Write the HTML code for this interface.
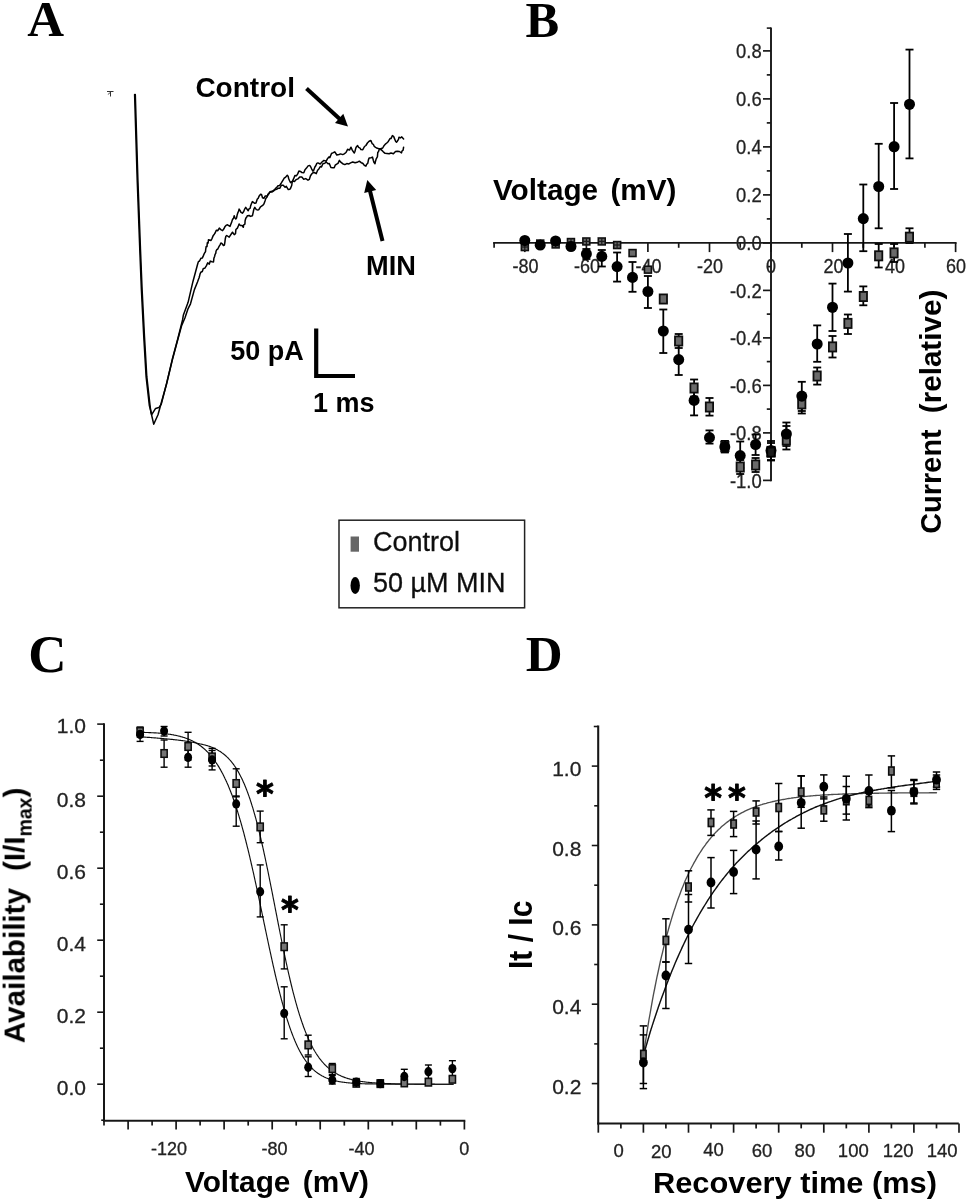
<!DOCTYPE html>
<html lang="en"><head><meta charset="utf-8"><title>Figure: MIN effects on sodium current</title>
<style>html,body{margin:0;padding:0;background:#fff}svg{display:block}</style></head><body>
<svg width="967" height="1200" viewBox="0 0 967 1200">
<rect x="0" y="0" width="967" height="1200" fill="#fff"/>
<defs><filter id="soft" x="0" y="0" width="967" height="1200" filterUnits="userSpaceOnUse"><feGaussianBlur stdDeviation="0.55"/></filter></defs>
<g filter="url(#soft)">
<text x="27.2" y="36.2" font-family='"Liberation Serif", "Times New Roman", serif' font-size="51" font-weight="bold" text-anchor="start" fill="#000" >A</text>
<text x="525.6" y="36.5" font-family='"Liberation Serif", "Times New Roman", serif' font-size="50.5" font-weight="bold" text-anchor="start" fill="#000" >B</text>
<text x="28.2" y="672" font-family='"Liberation Serif", "Times New Roman", serif' font-size="53" font-weight="bold" text-anchor="start" fill="#000" >C</text>
<text x="525.8" y="670.9" font-family='"Liberation Serif", "Times New Roman", serif' font-size="51" font-weight="bold" text-anchor="start" fill="#000" >D</text>
<polyline points="134.6,94.6 137.2,180 139.8,250 141.4,289.6 143.8,337.1 146.1,376.7 149.3,405.2 151.7,414.7 155.6,408.4 158.8,407.6 161.2,404.4 166.7,383 172.3,359.3 177.8,338.7 182.6,319.7 183.4,314.9 188.1,302.3 192.9,281.7 197.6,264.3 198.4,261.6 199.5,261 201,258.2 202.4,257.9 203.5,255.4 204.2,253.7 205.5,251.6 205.7,249.4 206.2,246.4 207,246.6 207.3,242.8 208.1,243 208.5,239.7 211,240.5 212.1,238.3 213.3,235.4 214.3,234.2 215.1,233 216.3,230.2 217.8,230.7 219.3,228.1 220.8,229.6 222.6,230.6 223.9,228.8 225.1,226.4 226,225.4 227.5,224.8 230,226.4 230.9,224 231.6,222.4 232.5,219.4 233.5,218.4 234.2,215.7 234.8,217.6 235.8,219 236.5,218.1 237.3,214.4 238.1,211.9 238.4,211.9 239.1,209.1 240,210.4 241,212.3 242.4,213.2 243.7,211.5 244.8,208.8 245.7,207.4 247.1,209.3 248.2,210.7 249.1,208.7 250.1,208.4 250.7,205.7 251.3,204 252.4,201.6 254.8,203.3 256,203 257.3,199 258.2,198.3 259.2,195.9 260.6,194.2 261.5,194.4 262.5,197.7 263.9,198.3 265.3,195.9 267.2,196.1 268.9,193.3 270.3,191.9 272.2,192 274,190.7 275.5,188.4 276.5,187.7 278,185.8 279.7,185.5 281.5,182.7 283.2,179.8 284.2,178.2 285.7,177.1 287.3,175.3 288.2,176.4 288.7,178.8 289.7,181 290.6,182.7 292.3,181.3 293.4,179.2 294.9,175.6 296.4,175.8 297.7,173.9 298.9,171.1 300.5,171.4 301.9,172.6 303.8,172.8 305,169.7 306.5,168.1 308.1,165.9 309.6,165.4 310.4,166.3 311.6,168.8 312.9,171.1 313.6,170.6 315,166.8 315.8,165.7 316.8,163.4 317.9,162.9 320.2,164 322,162 323.9,160.4 326.2,161.2 327.4,158.8 329,156.9 329.9,157.6 331.5,153.5 332.8,152.9 334.8,151.8 336.8,155 339,154.5 340.6,153.9 342.7,154.6 344.2,153.9 346,152.5 347.6,149.3 349.5,150.1 351,147.2 352.3,150.1 353.4,151.8 354.3,153 355,151.2 355.9,147.8 356.5,146.7 357.6,145.5 358.6,147.4 360.1,148.1 360.9,149.6 362.8,149.7 364.5,146.5 365.9,145.5 367.4,143 369.1,141.3 370.9,140.5 372.1,143.6 373.3,144.3 374.2,146.3 376.5,148 378.4,148.4 380.8,148.8 382.7,148 384.2,145.4 385.7,143.8 386.8,143 388.3,141.4 390,138.6 391,138.6 392.4,135.6 393.6,136.3 394.2,137.9 395.7,141.5 396.5,142.2 397.1,141.5 398.5,139.3 399,137.2 400.4,137.9 401.8,136.9 403.6,138.9" fill="none" stroke="#000" stroke-width="1.5" stroke-linejoin="round" stroke-linecap="round" />
<polyline points="135.3,94.6 137.9,180 140.5,250 142.1,289.6 144.5,337.1 146.8,376.7 150,405.2 150.9,412 153.7,424.2 158,414.7 161.5,402 166.7,383.5 172.3,360 177.8,339.5 181.5,326 184.9,318 188.1,308.6 190.5,303.8 194.4,289.6 197.6,281.7 198.2,280 199.1,277.8 199.5,276.3 200,274.1 200.8,272.2 202.3,271.5 203.3,268.4 204.7,268.3 206.3,265.8 207.7,262.9 209.3,264.1 210.3,261.1 212,261.8 213.5,261.9 213.9,258.3 214.7,256.2 215,254.6 215.8,253.2 216,251.3 216.8,249.6 217.8,249 218.9,246.7 219.9,245.1 220.9,243 222.1,243.6 223.4,245.5 224.4,245 224.9,242.1 225.3,238.7 225.9,236.2 226.7,235.5 229.2,237.2 230.5,235.2 231.6,233.5 232.5,232.2 234.2,234.7 235.5,233.6 235.9,229.5 237.4,228.1 238.4,225.8 239.1,223.9 240.2,225.4 242.1,225.5 243.3,227.3 243.7,224.9 244.9,224.2 245.1,220.7 245.8,218.2 246.9,216.7 247.4,215.7 249.1,215.5 250.5,216.4 252.4,215.7 252.8,214.1 253.4,211.3 254,208.8 254.8,207.4 256.3,209.6 257.3,209.9 258.8,209.7 260.5,206.8 262.3,205.7 263.4,204.6 263.9,204 265,201 265.8,198.4 267.2,196.8 267.9,194.2 268.8,193.9 270,191.8 272,191.3 274.3,190 276.5,189.3 278.5,188.2 279.9,188.3 281.3,185.2 283.2,185.2 285.1,187.2 286.3,186.3 288.3,189.6 289.8,189.3 290.4,188.6 291.7,185.5 292.2,182 293.1,181.1 294.5,181.4 296.2,179.6 297.9,178.9 299.7,176.9 301.8,177.1 303.7,179.2 305.7,178.6 308,180.2 309.3,179.4 310.5,175.8 311.9,173.8 312.9,172.8 314.3,172.5 316.3,173.6 317.6,170.3 318.7,169.2 320.3,166.6 321.5,166.9 322.9,163.7 324.8,163.3 326.2,162 328,163.7 329.3,163.5 330.9,167.6 332.8,167.8 334.2,167.7 335.2,165.2 336.7,164.1 338,163.4 339.4,160.4 340.8,162.2 342.7,163.7 344.8,164.6 346.8,163.6 348.9,163.9 350.6,162.9 352.7,162 355.1,162.8 357.1,162.3 359.3,161.2 361.2,162.7 362.7,163.3 364.3,165.3 365.9,166.2 366.5,164.5 367.8,163.2 368.5,159.6 369.2,157.9 371,157.7 372.5,157.1 373.3,160.3 373.9,162.3 375,163.7 375.3,162 376.2,158.9 376.9,157.6 377.4,156.9 377.8,152.2 378.4,152.1 379.1,149.6 380.9,149.4 383.3,151.8 385.1,153.3 387,153.5 389.1,153.8 391,153 393.4,153.8 395.5,151.6 397.3,151.3 399.4,151.5 401.5,152.9 402,151 403.1,150.1 403.6,147.2" fill="none" stroke="#000" stroke-width="1.5" stroke-linejoin="round" stroke-linecap="round" />
<path d="M107 91.5h6.5M110.5 92v4.5M108.3 94.5l1.5-2" stroke="#333" stroke-width="1" fill="none"/>
<line x1="306.5" y1="88.5" x2="340.3" y2="119.4" stroke="#000" stroke-width="4.0" />
<polygon points="348,126.5 335,123 343.3,113.8" fill="#000"/>
<line x1="382.5" y1="241" x2="369.8" y2="190.2" stroke="#000" stroke-width="4.0" />
<polygon points="367.3,180 376.2,190.1 364.2,193.1" fill="#000"/>
<text x="195.4" y="96.8" font-family='"Liberation Sans", Arial, Helvetica, sans-serif' font-size="28" font-weight="bold" text-anchor="start" fill="#000" >Control</text>
<text x="366" y="275.3" font-family='"Liberation Sans", Arial, Helvetica, sans-serif' font-size="27.2" font-weight="bold" text-anchor="start" fill="#000" >MIN</text>
<text x="230.2" y="359.7" font-family='"Liberation Sans", Arial, Helvetica, sans-serif' font-size="27" font-weight="bold" text-anchor="start" fill="#000" >50 pA</text>
<text x="313" y="411.7" font-family='"Liberation Sans", Arial, Helvetica, sans-serif' font-size="27" font-weight="bold" text-anchor="start" fill="#000" >1 ms</text>
<path d="M316.2 328.5V376H355" fill="none" stroke="#000" stroke-width="4.2"/>
<rect x="339" y="520.2" width="185.6" height="87.6" fill="#fff" stroke="#222" stroke-width="1.5"/>
<rect x="350.6" y="536.5" width="8.4" height="15.2" fill="#666"/>
<ellipse cx="355.2" cy="585.5" rx="4.7" ry="8.5" fill="#000"/>
<text x="373" y="550.8" font-family='"Liberation Sans", Arial, Helvetica, sans-serif' font-size="27" font-weight="normal" text-anchor="start" fill="#111"  stroke="#111" stroke-width="0.3">Control</text>
<text x="373" y="591.8" font-family='"Liberation Sans", Arial, Helvetica, sans-serif' font-size="27" font-weight="normal" text-anchor="start" fill="#111"  stroke="#111" stroke-width="0.3">50 µM MIN</text>
<line x1="493.1" y1="242.9" x2="956.6" y2="242.9" stroke="#181818" stroke-width="1.9" />
<line x1="771" y1="27.6" x2="771" y2="481.2" stroke="#181818" stroke-width="1.9" />
<line x1="494.1" y1="242.9" x2="494.1" y2="247.8" stroke="#181818" stroke-width="1.7" />
<line x1="524.8" y1="242.9" x2="524.8" y2="252.1" stroke="#181818" stroke-width="1.7" />
<line x1="555.6" y1="242.9" x2="555.6" y2="247.8" stroke="#181818" stroke-width="1.7" />
<line x1="586.4" y1="242.9" x2="586.4" y2="252.1" stroke="#181818" stroke-width="1.7" />
<line x1="617.1" y1="242.9" x2="617.1" y2="247.8" stroke="#181818" stroke-width="1.7" />
<line x1="647.9" y1="242.9" x2="647.9" y2="252.1" stroke="#181818" stroke-width="1.7" />
<line x1="678.7" y1="242.9" x2="678.7" y2="247.8" stroke="#181818" stroke-width="1.7" />
<line x1="709.5" y1="242.9" x2="709.5" y2="252.1" stroke="#181818" stroke-width="1.7" />
<line x1="740.2" y1="242.9" x2="740.2" y2="247.8" stroke="#181818" stroke-width="1.7" />
<line x1="771" y1="242.9" x2="771" y2="252.1" stroke="#181818" stroke-width="1.7" />
<line x1="801.8" y1="242.9" x2="801.8" y2="247.8" stroke="#181818" stroke-width="1.7" />
<line x1="832.5" y1="242.9" x2="832.5" y2="252.1" stroke="#181818" stroke-width="1.7" />
<line x1="863.3" y1="242.9" x2="863.3" y2="247.8" stroke="#181818" stroke-width="1.7" />
<line x1="894.1" y1="242.9" x2="894.1" y2="252.1" stroke="#181818" stroke-width="1.7" />
<line x1="924.9" y1="242.9" x2="924.9" y2="247.8" stroke="#181818" stroke-width="1.7" />
<line x1="955.6" y1="242.9" x2="955.6" y2="252.1" stroke="#181818" stroke-width="1.7" />
<line x1="763" y1="480.4" x2="771" y2="480.4" stroke="#181818" stroke-width="1.7" />
<line x1="766.8" y1="456.6" x2="771" y2="456.6" stroke="#181818" stroke-width="1.7" />
<line x1="763" y1="432.9" x2="771" y2="432.9" stroke="#181818" stroke-width="1.7" />
<line x1="766.8" y1="409.1" x2="771" y2="409.1" stroke="#181818" stroke-width="1.7" />
<line x1="763" y1="385.4" x2="771" y2="385.4" stroke="#181818" stroke-width="1.7" />
<line x1="766.8" y1="361.6" x2="771" y2="361.6" stroke="#181818" stroke-width="1.7" />
<line x1="763" y1="337.9" x2="771" y2="337.9" stroke="#181818" stroke-width="1.7" />
<line x1="766.8" y1="314.1" x2="771" y2="314.1" stroke="#181818" stroke-width="1.7" />
<line x1="763" y1="290.4" x2="771" y2="290.4" stroke="#181818" stroke-width="1.7" />
<line x1="766.8" y1="266.6" x2="771" y2="266.6" stroke="#181818" stroke-width="1.7" />
<line x1="763" y1="242.9" x2="771" y2="242.9" stroke="#181818" stroke-width="1.7" />
<line x1="766.8" y1="218.9" x2="771" y2="218.9" stroke="#181818" stroke-width="1.7" />
<line x1="763" y1="194.9" x2="771" y2="194.9" stroke="#181818" stroke-width="1.7" />
<line x1="766.8" y1="170.9" x2="771" y2="170.9" stroke="#181818" stroke-width="1.7" />
<line x1="763" y1="146.9" x2="771" y2="146.9" stroke="#181818" stroke-width="1.7" />
<line x1="766.8" y1="122.9" x2="771" y2="122.9" stroke="#181818" stroke-width="1.7" />
<line x1="763" y1="98.9" x2="771" y2="98.9" stroke="#181818" stroke-width="1.7" />
<line x1="766.8" y1="74.9" x2="771" y2="74.9" stroke="#181818" stroke-width="1.7" />
<line x1="763" y1="50.9" x2="771" y2="50.9" stroke="#181818" stroke-width="1.7" />
<line x1="766.8" y1="28.1" x2="771" y2="28.1" stroke="#181818" stroke-width="1.6" />
<text x="525.4" y="272.5" font-family='"Liberation Sans", Arial, Helvetica, sans-serif' font-size="20" font-weight="normal" text-anchor="middle" fill="#222" textLength="26" lengthAdjust="spacingAndGlyphs" stroke="#222" stroke-width="0.3">-80</text>
<text x="587" y="272.5" font-family='"Liberation Sans", Arial, Helvetica, sans-serif' font-size="20" font-weight="normal" text-anchor="middle" fill="#222" textLength="26" lengthAdjust="spacingAndGlyphs" stroke="#222" stroke-width="0.3">-60</text>
<text x="648.5" y="272.5" font-family='"Liberation Sans", Arial, Helvetica, sans-serif' font-size="20" font-weight="normal" text-anchor="middle" fill="#222" textLength="26" lengthAdjust="spacingAndGlyphs" stroke="#222" stroke-width="0.3">-40</text>
<text x="710.1" y="272.5" font-family='"Liberation Sans", Arial, Helvetica, sans-serif' font-size="20" font-weight="normal" text-anchor="middle" fill="#222" textLength="26" lengthAdjust="spacingAndGlyphs" stroke="#222" stroke-width="0.3">-20</text>
<text x="771" y="272.5" font-family='"Liberation Sans", Arial, Helvetica, sans-serif' font-size="20" font-weight="normal" text-anchor="middle" fill="#222" textLength="10" lengthAdjust="spacingAndGlyphs" stroke="#222" stroke-width="0.3">0</text>
<text x="833.5" y="272.5" font-family='"Liberation Sans", Arial, Helvetica, sans-serif' font-size="20" font-weight="normal" text-anchor="middle" fill="#222" textLength="20" lengthAdjust="spacingAndGlyphs" stroke="#222" stroke-width="0.3">20</text>
<text x="895.1" y="272.5" font-family='"Liberation Sans", Arial, Helvetica, sans-serif' font-size="20" font-weight="normal" text-anchor="middle" fill="#222" textLength="20" lengthAdjust="spacingAndGlyphs" stroke="#222" stroke-width="0.3">40</text>
<text x="956" y="272.5" font-family='"Liberation Sans", Arial, Helvetica, sans-serif' font-size="20" font-weight="normal" text-anchor="middle" fill="#222" textLength="20" lengthAdjust="spacingAndGlyphs" stroke="#222" stroke-width="0.3">60</text>
<text x="761.7" y="58.3" font-family='"Liberation Sans", Arial, Helvetica, sans-serif' font-size="20.5" font-weight="normal" text-anchor="end" fill="#222" textLength="25.6" lengthAdjust="spacingAndGlyphs" stroke="#222" stroke-width="0.3">0.8</text>
<text x="761.7" y="106.3" font-family='"Liberation Sans", Arial, Helvetica, sans-serif' font-size="20.5" font-weight="normal" text-anchor="end" fill="#222" textLength="25.6" lengthAdjust="spacingAndGlyphs" stroke="#222" stroke-width="0.3">0.6</text>
<text x="761.7" y="154.3" font-family='"Liberation Sans", Arial, Helvetica, sans-serif' font-size="20.5" font-weight="normal" text-anchor="end" fill="#222" textLength="25.6" lengthAdjust="spacingAndGlyphs" stroke="#222" stroke-width="0.3">0.4</text>
<text x="761.7" y="202.3" font-family='"Liberation Sans", Arial, Helvetica, sans-serif' font-size="20.5" font-weight="normal" text-anchor="end" fill="#222" textLength="25.6" lengthAdjust="spacingAndGlyphs" stroke="#222" stroke-width="0.3">0.2</text>
<text x="761.7" y="250.3" font-family='"Liberation Sans", Arial, Helvetica, sans-serif' font-size="20.5" font-weight="normal" text-anchor="end" fill="#222" textLength="25.6" lengthAdjust="spacingAndGlyphs" stroke="#222" stroke-width="0.3">0.0</text>
<text x="761.7" y="297.8" font-family='"Liberation Sans", Arial, Helvetica, sans-serif' font-size="20.5" font-weight="normal" text-anchor="end" fill="#222" textLength="31.8" lengthAdjust="spacingAndGlyphs" stroke="#222" stroke-width="0.3">-0.2</text>
<text x="761.7" y="345.3" font-family='"Liberation Sans", Arial, Helvetica, sans-serif' font-size="20.5" font-weight="normal" text-anchor="end" fill="#222" textLength="31.8" lengthAdjust="spacingAndGlyphs" stroke="#222" stroke-width="0.3">-0.4</text>
<text x="761.7" y="392.8" font-family='"Liberation Sans", Arial, Helvetica, sans-serif' font-size="20.5" font-weight="normal" text-anchor="end" fill="#222" textLength="31.8" lengthAdjust="spacingAndGlyphs" stroke="#222" stroke-width="0.3">-0.6</text>
<text x="761.7" y="440.3" font-family='"Liberation Sans", Arial, Helvetica, sans-serif' font-size="20.5" font-weight="normal" text-anchor="end" fill="#222" textLength="31.8" lengthAdjust="spacingAndGlyphs" stroke="#222" stroke-width="0.3">-0.8</text>
<text x="761.7" y="487.8" font-family='"Liberation Sans", Arial, Helvetica, sans-serif' font-size="20.5" font-weight="normal" text-anchor="end" fill="#222" textLength="31.8" lengthAdjust="spacingAndGlyphs" stroke="#222" stroke-width="0.3">-1.0</text>
<text x="493" y="199.7" font-family='"Liberation Sans", Arial, Helvetica, sans-serif' font-size="29" font-weight="bold" text-anchor="start" fill="#000" textLength="183.5" lengthAdjust="spacingAndGlyphs" word-spacing="4">Voltage (mV)</text>
<text transform="translate(941.3 533.8) rotate(-90)" font-family='"Liberation Sans", Arial, Helvetica, sans-serif' font-size="29.4" font-weight="bold" fill="#000"><tspan x="0" textLength="104.5" lengthAdjust="spacingAndGlyphs">Current</tspan> <tspan x="120.6" textLength="123.5" lengthAdjust="spacingAndGlyphs">(relative)</tspan></text>
<line x1="663.3" y1="296" x2="663.3" y2="302" stroke="#000" stroke-width="1.8" />
<line x1="659.3" y1="296" x2="667.3" y2="296" stroke="#000" stroke-width="1.8" />
<line x1="659.3" y1="302" x2="667.3" y2="302" stroke="#000" stroke-width="1.8" />
<line x1="678.7" y1="334" x2="678.7" y2="348" stroke="#000" stroke-width="1.8" />
<line x1="674.7" y1="334" x2="682.7" y2="334" stroke="#000" stroke-width="1.8" />
<line x1="674.7" y1="348" x2="682.7" y2="348" stroke="#000" stroke-width="1.8" />
<line x1="694.1" y1="379.5" x2="694.1" y2="396.5" stroke="#000" stroke-width="1.8" />
<line x1="690.1" y1="379.5" x2="698.1" y2="379.5" stroke="#000" stroke-width="1.8" />
<line x1="690.1" y1="396.5" x2="698.1" y2="396.5" stroke="#000" stroke-width="1.8" />
<line x1="709.5" y1="398" x2="709.5" y2="415.6" stroke="#000" stroke-width="1.8" />
<line x1="705.5" y1="398" x2="713.5" y2="398" stroke="#000" stroke-width="1.8" />
<line x1="705.5" y1="415.6" x2="713.5" y2="415.6" stroke="#000" stroke-width="1.8" />
<line x1="724.8" y1="441" x2="724.8" y2="452" stroke="#000" stroke-width="1.8" />
<line x1="720.8" y1="441" x2="728.8" y2="441" stroke="#000" stroke-width="1.8" />
<line x1="720.8" y1="452" x2="728.8" y2="452" stroke="#000" stroke-width="1.8" />
<line x1="740.2" y1="460" x2="740.2" y2="474" stroke="#000" stroke-width="1.8" />
<line x1="736.2" y1="460" x2="744.2" y2="460" stroke="#000" stroke-width="1.8" />
<line x1="736.2" y1="474" x2="744.2" y2="474" stroke="#000" stroke-width="1.8" />
<line x1="755.6" y1="458" x2="755.6" y2="472" stroke="#000" stroke-width="1.8" />
<line x1="751.6" y1="458" x2="759.6" y2="458" stroke="#000" stroke-width="1.8" />
<line x1="751.6" y1="472" x2="759.6" y2="472" stroke="#000" stroke-width="1.8" />
<line x1="771" y1="443" x2="771" y2="460.5" stroke="#000" stroke-width="1.8" />
<line x1="767" y1="443" x2="775" y2="443" stroke="#000" stroke-width="1.8" />
<line x1="767" y1="460.5" x2="775" y2="460.5" stroke="#000" stroke-width="1.8" />
<line x1="786.4" y1="426" x2="786.4" y2="449.5" stroke="#000" stroke-width="1.8" />
<line x1="782.4" y1="426" x2="790.4" y2="426" stroke="#000" stroke-width="1.8" />
<line x1="782.4" y1="449.5" x2="790.4" y2="449.5" stroke="#000" stroke-width="1.8" />
<line x1="801.8" y1="394" x2="801.8" y2="413.5" stroke="#000" stroke-width="1.8" />
<line x1="797.8" y1="394" x2="805.8" y2="394" stroke="#000" stroke-width="1.8" />
<line x1="797.8" y1="413.5" x2="805.8" y2="413.5" stroke="#000" stroke-width="1.8" />
<line x1="817.2" y1="367.5" x2="817.2" y2="384.6" stroke="#000" stroke-width="1.8" />
<line x1="813.2" y1="367.5" x2="821.2" y2="367.5" stroke="#000" stroke-width="1.8" />
<line x1="813.2" y1="384.6" x2="821.2" y2="384.6" stroke="#000" stroke-width="1.8" />
<line x1="832.5" y1="336" x2="832.5" y2="357.5" stroke="#000" stroke-width="1.8" />
<line x1="828.5" y1="336" x2="836.5" y2="336" stroke="#000" stroke-width="1.8" />
<line x1="828.5" y1="357.5" x2="836.5" y2="357.5" stroke="#000" stroke-width="1.8" />
<line x1="847.9" y1="314.5" x2="847.9" y2="334" stroke="#000" stroke-width="1.8" />
<line x1="843.9" y1="314.5" x2="851.9" y2="314.5" stroke="#000" stroke-width="1.8" />
<line x1="843.9" y1="334" x2="851.9" y2="334" stroke="#000" stroke-width="1.8" />
<line x1="863.3" y1="286.4" x2="863.3" y2="305.3" stroke="#000" stroke-width="1.8" />
<line x1="859.3" y1="286.4" x2="867.3" y2="286.4" stroke="#000" stroke-width="1.8" />
<line x1="859.3" y1="305.3" x2="867.3" y2="305.3" stroke="#000" stroke-width="1.8" />
<line x1="878.7" y1="244" x2="878.7" y2="267.5" stroke="#000" stroke-width="1.8" />
<line x1="874.7" y1="244" x2="882.7" y2="244" stroke="#000" stroke-width="1.8" />
<line x1="874.7" y1="267.5" x2="882.7" y2="267.5" stroke="#000" stroke-width="1.8" />
<line x1="894.1" y1="244" x2="894.1" y2="262" stroke="#000" stroke-width="1.8" />
<line x1="890.1" y1="244" x2="898.1" y2="244" stroke="#000" stroke-width="1.8" />
<line x1="890.1" y1="262" x2="898.1" y2="262" stroke="#000" stroke-width="1.8" />
<line x1="909.5" y1="228.3" x2="909.5" y2="243" stroke="#000" stroke-width="1.8" />
<line x1="905.5" y1="228.3" x2="913.5" y2="228.3" stroke="#000" stroke-width="1.8" />
<line x1="905.5" y1="243" x2="913.5" y2="243" stroke="#000" stroke-width="1.8" />
<line x1="586.4" y1="249" x2="586.4" y2="259" stroke="#000" stroke-width="1.8" />
<line x1="582.4" y1="249" x2="590.4" y2="249" stroke="#000" stroke-width="1.8" />
<line x1="582.4" y1="259" x2="590.4" y2="259" stroke="#000" stroke-width="1.8" />
<line x1="601.8" y1="250" x2="601.8" y2="266.5" stroke="#000" stroke-width="1.8" />
<line x1="597.8" y1="250" x2="605.8" y2="250" stroke="#000" stroke-width="1.8" />
<line x1="597.8" y1="266.5" x2="605.8" y2="266.5" stroke="#000" stroke-width="1.8" />
<line x1="617.1" y1="252.5" x2="617.1" y2="281.6" stroke="#000" stroke-width="1.8" />
<line x1="613.1" y1="252.5" x2="621.1" y2="252.5" stroke="#000" stroke-width="1.8" />
<line x1="613.1" y1="281.6" x2="621.1" y2="281.6" stroke="#000" stroke-width="1.8" />
<line x1="632.5" y1="262" x2="632.5" y2="291.8" stroke="#000" stroke-width="1.8" />
<line x1="628.5" y1="262" x2="636.5" y2="262" stroke="#000" stroke-width="1.8" />
<line x1="628.5" y1="291.8" x2="636.5" y2="291.8" stroke="#000" stroke-width="1.8" />
<line x1="647.9" y1="276" x2="647.9" y2="308" stroke="#000" stroke-width="1.8" />
<line x1="643.9" y1="276" x2="651.9" y2="276" stroke="#000" stroke-width="1.8" />
<line x1="643.9" y1="308" x2="651.9" y2="308" stroke="#000" stroke-width="1.8" />
<line x1="663.3" y1="309.5" x2="663.3" y2="353" stroke="#000" stroke-width="1.8" />
<line x1="659.3" y1="309.5" x2="667.3" y2="309.5" stroke="#000" stroke-width="1.8" />
<line x1="659.3" y1="353" x2="667.3" y2="353" stroke="#000" stroke-width="1.8" />
<line x1="678.7" y1="345" x2="678.7" y2="375" stroke="#000" stroke-width="1.8" />
<line x1="674.7" y1="345" x2="682.7" y2="345" stroke="#000" stroke-width="1.8" />
<line x1="674.7" y1="375" x2="682.7" y2="375" stroke="#000" stroke-width="1.8" />
<line x1="694.1" y1="386" x2="694.1" y2="415.4" stroke="#000" stroke-width="1.8" />
<line x1="690.1" y1="386" x2="698.1" y2="386" stroke="#000" stroke-width="1.8" />
<line x1="690.1" y1="415.4" x2="698.1" y2="415.4" stroke="#000" stroke-width="1.8" />
<line x1="709.5" y1="430.4" x2="709.5" y2="443.6" stroke="#000" stroke-width="1.8" />
<line x1="705.5" y1="430.4" x2="713.5" y2="430.4" stroke="#000" stroke-width="1.8" />
<line x1="705.5" y1="443.6" x2="713.5" y2="443.6" stroke="#000" stroke-width="1.8" />
<line x1="724.8" y1="441" x2="724.8" y2="452.5" stroke="#000" stroke-width="1.8" />
<line x1="720.8" y1="441" x2="728.8" y2="441" stroke="#000" stroke-width="1.8" />
<line x1="720.8" y1="452.5" x2="728.8" y2="452.5" stroke="#000" stroke-width="1.8" />
<line x1="740.2" y1="441.5" x2="740.2" y2="468" stroke="#000" stroke-width="1.8" />
<line x1="736.2" y1="441.5" x2="744.2" y2="441.5" stroke="#000" stroke-width="1.8" />
<line x1="736.2" y1="468" x2="744.2" y2="468" stroke="#000" stroke-width="1.8" />
<line x1="755.6" y1="434.5" x2="755.6" y2="455" stroke="#000" stroke-width="1.8" />
<line x1="751.6" y1="434.5" x2="759.6" y2="434.5" stroke="#000" stroke-width="1.8" />
<line x1="751.6" y1="455" x2="759.6" y2="455" stroke="#000" stroke-width="1.8" />
<line x1="771" y1="441" x2="771" y2="460" stroke="#000" stroke-width="1.8" />
<line x1="767" y1="441" x2="775" y2="441" stroke="#000" stroke-width="1.8" />
<line x1="767" y1="460" x2="775" y2="460" stroke="#000" stroke-width="1.8" />
<line x1="786.4" y1="422.5" x2="786.4" y2="446" stroke="#000" stroke-width="1.8" />
<line x1="782.4" y1="422.5" x2="790.4" y2="422.5" stroke="#000" stroke-width="1.8" />
<line x1="782.4" y1="446" x2="790.4" y2="446" stroke="#000" stroke-width="1.8" />
<line x1="801.8" y1="381.8" x2="801.8" y2="411" stroke="#000" stroke-width="1.8" />
<line x1="797.8" y1="381.8" x2="805.8" y2="381.8" stroke="#000" stroke-width="1.8" />
<line x1="797.8" y1="411" x2="805.8" y2="411" stroke="#000" stroke-width="1.8" />
<line x1="817.2" y1="325.4" x2="817.2" y2="361.8" stroke="#000" stroke-width="1.8" />
<line x1="813.2" y1="325.4" x2="821.2" y2="325.4" stroke="#000" stroke-width="1.8" />
<line x1="813.2" y1="361.8" x2="821.2" y2="361.8" stroke="#000" stroke-width="1.8" />
<line x1="832.5" y1="283.6" x2="832.5" y2="331" stroke="#000" stroke-width="1.8" />
<line x1="828.5" y1="283.6" x2="836.5" y2="283.6" stroke="#000" stroke-width="1.8" />
<line x1="828.5" y1="331" x2="836.5" y2="331" stroke="#000" stroke-width="1.8" />
<line x1="847.9" y1="234" x2="847.9" y2="291.6" stroke="#000" stroke-width="1.8" />
<line x1="843.9" y1="234" x2="851.9" y2="234" stroke="#000" stroke-width="1.8" />
<line x1="843.9" y1="291.6" x2="851.9" y2="291.6" stroke="#000" stroke-width="1.8" />
<line x1="863.3" y1="184.5" x2="863.3" y2="251.2" stroke="#000" stroke-width="1.8" />
<line x1="859.3" y1="184.5" x2="867.3" y2="184.5" stroke="#000" stroke-width="1.8" />
<line x1="859.3" y1="251.2" x2="867.3" y2="251.2" stroke="#000" stroke-width="1.8" />
<line x1="878.7" y1="143.8" x2="878.7" y2="228.3" stroke="#000" stroke-width="1.8" />
<line x1="874.7" y1="143.8" x2="882.7" y2="143.8" stroke="#000" stroke-width="1.8" />
<line x1="874.7" y1="228.3" x2="882.7" y2="228.3" stroke="#000" stroke-width="1.8" />
<line x1="894.1" y1="103" x2="894.1" y2="189" stroke="#000" stroke-width="1.8" />
<line x1="890.1" y1="103" x2="898.1" y2="103" stroke="#000" stroke-width="1.8" />
<line x1="890.1" y1="189" x2="898.1" y2="189" stroke="#000" stroke-width="1.8" />
<line x1="909.5" y1="49.6" x2="909.5" y2="158.4" stroke="#000" stroke-width="1.8" />
<line x1="905.5" y1="49.6" x2="913.5" y2="49.6" stroke="#000" stroke-width="1.8" />
<line x1="905.5" y1="158.4" x2="913.5" y2="158.4" stroke="#000" stroke-width="1.8" />
<rect x="521.4" y="243.6" width="6.9" height="6.9" fill="#6a6a6a" stroke="#111" stroke-width="1.6"/>
<line x1="524.8" y1="243.6" x2="524.8" y2="250.4" stroke="#1a1a1a" stroke-width="1.2" />
<line x1="521.4" y1="247" x2="528.2" y2="247" stroke="#1a1a1a" stroke-width="1.2" />
<rect x="536.8" y="240.1" width="6.9" height="6.9" fill="#6a6a6a" stroke="#111" stroke-width="1.6"/>
<line x1="540.2" y1="240.1" x2="540.2" y2="246.9" stroke="#1a1a1a" stroke-width="1.2" />
<line x1="536.8" y1="243.5" x2="543.6" y2="243.5" stroke="#1a1a1a" stroke-width="1.2" />
<rect x="552.2" y="241" width="6.9" height="6.9" fill="#6a6a6a" stroke="#111" stroke-width="1.6"/>
<line x1="555.6" y1="241" x2="555.6" y2="247.8" stroke="#1a1a1a" stroke-width="1.2" />
<line x1="552.2" y1="244.4" x2="559" y2="244.4" stroke="#1a1a1a" stroke-width="1.2" />
<rect x="567.5" y="238.6" width="6.9" height="6.9" fill="#6a6a6a" stroke="#111" stroke-width="1.6"/>
<line x1="571" y1="238.6" x2="571" y2="245.4" stroke="#1a1a1a" stroke-width="1.2" />
<line x1="567.6" y1="242" x2="574.4" y2="242" stroke="#1a1a1a" stroke-width="1.2" />
<rect x="582.9" y="238" width="6.9" height="6.9" fill="#6a6a6a" stroke="#111" stroke-width="1.6"/>
<line x1="586.4" y1="238" x2="586.4" y2="244.8" stroke="#1a1a1a" stroke-width="1.2" />
<line x1="583" y1="241.4" x2="589.8" y2="241.4" stroke="#1a1a1a" stroke-width="1.2" />
<rect x="598.3" y="238" width="6.9" height="6.9" fill="#6a6a6a" stroke="#111" stroke-width="1.6"/>
<line x1="601.8" y1="238" x2="601.8" y2="244.8" stroke="#1a1a1a" stroke-width="1.2" />
<line x1="598.4" y1="241.4" x2="605.2" y2="241.4" stroke="#1a1a1a" stroke-width="1.2" />
<rect x="613.7" y="241.6" width="6.9" height="6.9" fill="#6a6a6a" stroke="#111" stroke-width="1.6"/>
<line x1="617.1" y1="241.6" x2="617.1" y2="248.4" stroke="#1a1a1a" stroke-width="1.2" />
<line x1="613.8" y1="245" x2="620.5" y2="245" stroke="#1a1a1a" stroke-width="1.2" />
<rect x="629.1" y="249.6" width="6.9" height="6.9" fill="#6a6a6a" stroke="#111" stroke-width="1.6"/>
<rect x="644.5" y="266.2" width="6.9" height="6.9" fill="#6a6a6a" stroke="#111" stroke-width="1.6"/>
<rect x="659.7" y="294.4" width="7.3" height="9.2" fill="#6a6a6a" stroke="#111" stroke-width="1.8"/>
<rect x="675" y="336.4" width="7.3" height="9.2" fill="#6a6a6a" stroke="#111" stroke-width="1.8"/>
<rect x="690.4" y="383.4" width="7.3" height="9.2" fill="#6a6a6a" stroke="#111" stroke-width="1.8"/>
<rect x="705.8" y="402.4" width="7.3" height="9.2" fill="#6a6a6a" stroke="#111" stroke-width="1.8"/>
<rect x="721.2" y="441.9" width="7.3" height="9.2" fill="#6a6a6a" stroke="#111" stroke-width="1.8"/>
<rect x="736.6" y="462.4" width="7.3" height="9.2" fill="#6a6a6a" stroke="#111" stroke-width="1.8"/>
<rect x="752" y="460.4" width="7.3" height="9.2" fill="#6a6a6a" stroke="#111" stroke-width="1.8"/>
<rect x="767.4" y="446.8" width="7.3" height="9.2" fill="#6a6a6a" stroke="#111" stroke-width="1.8"/>
<rect x="782.7" y="435.4" width="7.3" height="9.2" fill="#6a6a6a" stroke="#111" stroke-width="1.8"/>
<rect x="798.1" y="399.3" width="7.3" height="9.2" fill="#6a6a6a" stroke="#111" stroke-width="1.8"/>
<rect x="813.5" y="371.4" width="7.3" height="9.2" fill="#6a6a6a" stroke="#111" stroke-width="1.8"/>
<rect x="828.9" y="342.3" width="7.3" height="9.2" fill="#6a6a6a" stroke="#111" stroke-width="1.8"/>
<rect x="844.3" y="318.8" width="7.3" height="9.2" fill="#6a6a6a" stroke="#111" stroke-width="1.8"/>
<rect x="859.7" y="291.9" width="7.3" height="9.2" fill="#6a6a6a" stroke="#111" stroke-width="1.8"/>
<rect x="875" y="251.2" width="7.3" height="9.2" fill="#6a6a6a" stroke="#111" stroke-width="1.8"/>
<rect x="890.4" y="248.3" width="7.3" height="9.2" fill="#6a6a6a" stroke="#111" stroke-width="1.8"/>
<rect x="905.8" y="232.6" width="7.3" height="9.2" fill="#6a6a6a" stroke="#111" stroke-width="1.8"/>
<ellipse cx="524.8" cy="240.5" rx="5.5" ry="5.6" fill="#000"/>
<ellipse cx="540.2" cy="245" rx="5.5" ry="5.6" fill="#000"/>
<ellipse cx="555.6" cy="241" rx="5.5" ry="5.6" fill="#000"/>
<ellipse cx="571" cy="246.5" rx="5.5" ry="5.6" fill="#000"/>
<ellipse cx="586.4" cy="254" rx="5.5" ry="5.6" fill="#000"/>
<ellipse cx="601.8" cy="256.4" rx="5.5" ry="5.6" fill="#000"/>
<ellipse cx="617.1" cy="266.6" rx="5.5" ry="5.6" fill="#000"/>
<ellipse cx="632.5" cy="277.4" rx="5.5" ry="5.6" fill="#000"/>
<ellipse cx="647.9" cy="291.5" rx="5.5" ry="5.6" fill="#000"/>
<ellipse cx="663.3" cy="331" rx="5.5" ry="5.6" fill="#000"/>
<ellipse cx="678.7" cy="359.6" rx="5.5" ry="5.6" fill="#000"/>
<ellipse cx="694.1" cy="400.4" rx="5.5" ry="5.6" fill="#000"/>
<ellipse cx="709.5" cy="437.6" rx="5.5" ry="5.6" fill="#000"/>
<ellipse cx="724.8" cy="446.9" rx="5.5" ry="5.6" fill="#000"/>
<ellipse cx="740.2" cy="455.6" rx="5.5" ry="5.6" fill="#000"/>
<ellipse cx="755.6" cy="444.5" rx="5.5" ry="5.6" fill="#000"/>
<ellipse cx="771" cy="450.6" rx="5.5" ry="5.6" fill="#000"/>
<ellipse cx="786.4" cy="434" rx="5.5" ry="5.6" fill="#000"/>
<ellipse cx="801.8" cy="396.1" rx="5.5" ry="5.6" fill="#000"/>
<ellipse cx="817.2" cy="344" rx="5.5" ry="5.6" fill="#000"/>
<ellipse cx="832.5" cy="307.3" rx="5.5" ry="5.6" fill="#000"/>
<ellipse cx="847.9" cy="263" rx="5.5" ry="5.6" fill="#000"/>
<ellipse cx="863.3" cy="218.6" rx="5.5" ry="5.6" fill="#000"/>
<ellipse cx="878.7" cy="186.5" rx="5.5" ry="5.6" fill="#000"/>
<ellipse cx="894.1" cy="146.7" rx="5.5" ry="5.6" fill="#000"/>
<ellipse cx="909.5" cy="104.3" rx="5.5" ry="5.6" fill="#000"/>
<rect x="767.4" y="447.7" width="7.3" height="9.0" fill="#1c1c1c" stroke="#000" stroke-width="1.8"/>
<line x1="104" y1="723.3" x2="104" y2="1121.6" stroke="#181818" stroke-width="2.0" />
<line x1="103" y1="1120.7" x2="465.3" y2="1120.7" stroke="#181818" stroke-width="2.0" />
<line x1="97.2" y1="724.1" x2="104" y2="724.1" stroke="#181818" stroke-width="1.6" />
<line x1="101.2" y1="1120.2" x2="104" y2="1120.2" stroke="#181818" stroke-width="1.6" />
<line x1="97.2" y1="1084.2" x2="104" y2="1084.2" stroke="#181818" stroke-width="1.6" />
<line x1="99.9" y1="1048.2" x2="104" y2="1048.2" stroke="#181818" stroke-width="1.6" />
<line x1="97.2" y1="1012.2" x2="104" y2="1012.2" stroke="#181818" stroke-width="1.6" />
<line x1="99.9" y1="976.2" x2="104" y2="976.2" stroke="#181818" stroke-width="1.6" />
<line x1="97.2" y1="940.2" x2="104" y2="940.2" stroke="#181818" stroke-width="1.6" />
<line x1="99.9" y1="904.2" x2="104" y2="904.2" stroke="#181818" stroke-width="1.6" />
<line x1="97.2" y1="868.2" x2="104" y2="868.2" stroke="#181818" stroke-width="1.6" />
<line x1="99.9" y1="832.2" x2="104" y2="832.2" stroke="#181818" stroke-width="1.6" />
<line x1="97.2" y1="796.2" x2="104" y2="796.2" stroke="#181818" stroke-width="1.6" />
<line x1="99.9" y1="760.2" x2="104" y2="760.2" stroke="#181818" stroke-width="1.6" />
<line x1="104" y1="1120.7" x2="104" y2="1125.6" stroke="#181818" stroke-width="1.7" />
<line x1="128.1" y1="1120.7" x2="128.1" y2="1129.5" stroke="#181818" stroke-width="1.7" />
<line x1="152.1" y1="1120.7" x2="152.1" y2="1125.6" stroke="#181818" stroke-width="1.7" />
<line x1="176.1" y1="1120.7" x2="176.1" y2="1129.5" stroke="#181818" stroke-width="1.7" />
<line x1="200.1" y1="1120.7" x2="200.1" y2="1125.6" stroke="#181818" stroke-width="1.7" />
<line x1="224.1" y1="1120.7" x2="224.1" y2="1129.5" stroke="#181818" stroke-width="1.7" />
<line x1="248.2" y1="1120.7" x2="248.2" y2="1125.6" stroke="#181818" stroke-width="1.7" />
<line x1="272.2" y1="1120.7" x2="272.2" y2="1129.5" stroke="#181818" stroke-width="1.7" />
<line x1="296.2" y1="1120.7" x2="296.2" y2="1125.6" stroke="#181818" stroke-width="1.7" />
<line x1="320.2" y1="1120.7" x2="320.2" y2="1129.5" stroke="#181818" stroke-width="1.7" />
<line x1="344.3" y1="1120.7" x2="344.3" y2="1125.6" stroke="#181818" stroke-width="1.7" />
<line x1="368.3" y1="1120.7" x2="368.3" y2="1129.5" stroke="#181818" stroke-width="1.7" />
<line x1="392.3" y1="1120.7" x2="392.3" y2="1125.6" stroke="#181818" stroke-width="1.7" />
<line x1="416.3" y1="1120.7" x2="416.3" y2="1129.5" stroke="#181818" stroke-width="1.7" />
<line x1="440.4" y1="1120.7" x2="440.4" y2="1125.6" stroke="#181818" stroke-width="1.7" />
<line x1="464.4" y1="1120.7" x2="464.4" y2="1129.5" stroke="#181818" stroke-width="1.7" />
<text x="86" y="733.2" font-family='"Liberation Sans", Arial, Helvetica, sans-serif' font-size="21" font-weight="normal" text-anchor="end" fill="#222"  stroke="#222" stroke-width="0.3">1.0</text>
<text x="86" y="807.2" font-family='"Liberation Sans", Arial, Helvetica, sans-serif' font-size="21" font-weight="normal" text-anchor="end" fill="#222"  stroke="#222" stroke-width="0.3">0.8</text>
<text x="86" y="879.2" font-family='"Liberation Sans", Arial, Helvetica, sans-serif' font-size="21" font-weight="normal" text-anchor="end" fill="#222"  stroke="#222" stroke-width="0.3">0.6</text>
<text x="86" y="951.2" font-family='"Liberation Sans", Arial, Helvetica, sans-serif' font-size="21" font-weight="normal" text-anchor="end" fill="#222"  stroke="#222" stroke-width="0.3">0.4</text>
<text x="86" y="1023.2" font-family='"Liberation Sans", Arial, Helvetica, sans-serif' font-size="21" font-weight="normal" text-anchor="end" fill="#222"  stroke="#222" stroke-width="0.3">0.2</text>
<text x="86" y="1095.2" font-family='"Liberation Sans", Arial, Helvetica, sans-serif' font-size="21" font-weight="normal" text-anchor="end" fill="#222"  stroke="#222" stroke-width="0.3">0.0</text>
<text x="169" y="1155.2" font-family='"Liberation Sans", Arial, Helvetica, sans-serif' font-size="18" font-weight="normal" text-anchor="middle" fill="#222"  stroke="#222" stroke-width="0.3">-120</text>
<text x="274.5" y="1155.2" font-family='"Liberation Sans", Arial, Helvetica, sans-serif' font-size="18" font-weight="normal" text-anchor="middle" fill="#222"  stroke="#222" stroke-width="0.3">-80</text>
<text x="361.6" y="1155.2" font-family='"Liberation Sans", Arial, Helvetica, sans-serif' font-size="18" font-weight="normal" text-anchor="middle" fill="#222"  stroke="#222" stroke-width="0.3">-40</text>
<text x="464.2" y="1155.2" font-family='"Liberation Sans", Arial, Helvetica, sans-serif' font-size="18" font-weight="normal" text-anchor="middle" fill="#222"  stroke="#222" stroke-width="0.3">0</text>
<text x="185" y="1192.2" font-family='"Liberation Sans", Arial, Helvetica, sans-serif' font-size="29" font-weight="bold" text-anchor="start" fill="#000" textLength="184" lengthAdjust="spacingAndGlyphs" word-spacing="4">Voltage (mV)</text>
<text transform="translate(24.6 1043.2) rotate(-90)" font-family='"Liberation Sans", Arial, Helvetica, sans-serif' font-size="29.6" font-weight="bold" fill="#000">Availability<tspan dx="17">(I/I</tspan><tspan font-size="19.5" dy="6.5">max</tspan><tspan dy="-6.5">)</tspan></text>
<polyline points="139.9,736.7 140.5,736.8 141.1,736.8 141.7,736.8 142.3,736.9 142.9,736.9 143.5,737 144.1,737 144.7,737.1 145.3,737.1 145.9,737.2 146.5,737.2 147.1,737.3 147.7,737.3 148.3,737.3 148.9,737.4 149.5,737.4 150.1,737.5 150.7,737.5 151.3,737.6 151.9,737.6 152.5,737.7 153.1,737.7 153.7,737.8 154.3,737.8 154.9,737.9 155.5,737.9 156.1,738 156.7,738 157.3,738.1 157.9,738.1 158.5,738.2 159.1,738.2 159.7,738.3 160.3,738.3 160.9,738.4 161.5,738.4 162.1,738.5 162.7,738.5 163.3,738.6 163.9,738.6 164.5,738.7 165.1,738.7 165.7,738.8 166.3,738.9 166.9,738.9 167.5,739 168.1,739 168.7,739.1 169.3,739.1 169.9,739.2 170.5,739.3 171.1,739.3 171.7,739.4 172.3,739.4 172.9,739.5 173.5,739.6 174.1,739.6 174.7,739.7 175.3,739.8 175.9,739.8 176.5,739.9 177.1,740 177.7,740 178.3,740.1 178.9,740.2 179.5,740.3 180.1,740.3 180.7,740.4 181.3,740.5 181.9,740.6 182.5,740.6 183.1,740.7 183.7,740.8 184.3,740.9 184.9,741 185.5,741.1 186.1,741.2 186.7,741.3 187.3,741.3 187.9,741.4 188.5,741.5 189.1,741.6 189.7,741.7 190.3,741.8 190.9,742 191.5,742.1 192.1,742.2 192.7,742.3 193.3,742.4 193.9,742.5 194.5,742.6 195.1,742.8 195.7,742.9 196.3,743 196.9,743.2 197.5,743.3 198.1,743.5 198.7,743.6 199.3,743.7 199.9,743.9 200.5,744 201.1,744.1 201.7,744.3 202.3,744.4 202.9,744.5 203.5,744.7 204.1,744.8 204.7,745 205.3,745.1 205.9,745.3 206.5,745.5 207.1,745.6 207.7,745.8 208.3,746 208.9,746.2 209.5,746.4 210.1,746.6 210.7,746.8 211.3,747.1 211.9,747.3 212.5,747.5 213.1,747.8 213.7,748.1 214.3,748.3 214.9,748.6 215.5,748.9 216.1,749.2 216.7,749.5 217.3,749.8 217.9,750.2 218.5,750.5 219.1,750.9 219.7,751.2 220.3,751.6 220.9,752 221.5,752.4 222.1,752.9 222.7,753.3 223.3,753.8 223.9,754.2 224.5,754.7 225.1,755.2 225.7,755.8 226.3,756.3 226.9,756.9 227.5,757.4 228.1,758 228.7,758.7 229.3,759.3 229.9,760 230.5,760.7 231.1,761.4 231.7,762.1 232.3,762.8 232.9,763.6 233.5,764.4 234.1,765.3 234.7,766.1 235.3,767 235.9,767.9 236.5,768.9 237.1,769.8 237.7,770.9 238.3,771.9 238.9,773 239.5,774.1 240.1,775.2 240.7,776.4 241.3,777.6 241.9,778.8 242.5,780.1 243.1,781.4 243.7,782.7 244.3,784.1 244.9,785.5 245.5,787 246.1,788.5 246.7,790 247.3,791.6 247.9,793.2 248.5,794.9 249.1,796.6 249.7,798.3 250.3,800.1 250.9,802 251.5,803.8 252.1,805.8 252.7,807.7 253.3,809.7 253.9,811.8 254.5,813.9 255.1,816 255.7,818.2 256.3,820.4 256.9,822.7 257.5,825 258.1,827.4 258.7,829.8 259.3,832.2 259.9,834.7 260.5,837.2 261.1,839.8 261.7,842.4 262.3,845 262.9,847.7 263.5,850.4 264.1,853.1 264.7,855.9 265.3,858.7 265.9,861.5 266.5,864.4 267.1,867.3 267.7,870.2 268.3,873.1 268.9,876.1 269.5,879.1 270.1,882.1 270.7,885.1 271.3,888.1 271.9,891.1 272.5,894.2 273.1,897.3 273.7,900.3 274.3,903.4 274.9,906.5 275.5,909.6 276.1,912.6 276.7,915.7 277.3,918.8 277.9,921.9 278.5,924.9 279.1,928 279.7,931 280.3,934 280.9,937 281.5,940 282.1,943 282.7,945.9 283.3,948.8 283.9,951.7 284.5,954.6 285.1,957.4 285.7,960.2 286.3,963 286.9,965.7 287.5,968.5 288.1,971.1 288.7,973.8 289.3,976.4 289.9,979 290.5,981.5 291.1,984 291.7,986.5 292.3,988.9 292.9,991.3 293.5,993.6 294.1,995.9 294.7,998.2 295.3,1000.4 295.9,1002.6 296.5,1004.7 297.1,1006.8 297.7,1008.9 298.3,1010.9 298.9,1012.9 299.5,1014.8 300.1,1016.7 300.7,1018.5 301.3,1020.3 301.9,1022.1 302.5,1023.8 303.1,1025.5 303.7,1027.2 304.3,1028.8 304.9,1030.4 305.5,1031.9 306.1,1033.4 306.7,1034.9 307.3,1036.3 307.9,1037.7 308.5,1039 309.1,1040.3 309.7,1041.6 310.3,1042.9 310.9,1044.1 311.5,1045.3 312.1,1046.4 312.7,1047.6 313.3,1048.7 313.9,1049.7 314.5,1050.8 315.1,1051.8 315.7,1052.7 316.3,1053.7 316.9,1054.6 317.5,1055.5 318.1,1056.4 318.7,1057.2 319.3,1058.1 319.9,1058.9 320.5,1059.6 321.1,1060.4 321.7,1061.1 322.3,1061.8 322.9,1062.5 323.5,1063.2 324.1,1063.9 324.7,1064.5 325.3,1065.1 325.9,1065.7 326.5,1066.3 327.1,1066.8 327.7,1067.4 328.3,1067.9 328.9,1068.4 329.5,1068.9 330.1,1069.4 330.7,1069.9 331.3,1070.3 331.9,1070.7 332.5,1071.2 333.1,1071.6 333.7,1072 334.3,1072.4 334.9,1072.7 335.5,1073.1 336.1,1073.5 336.7,1073.8 337.3,1074.1 337.9,1074.4 338.5,1074.8 339.1,1075.1 339.7,1075.3 340.3,1075.6 340.9,1075.9 341.5,1076.2 342.1,1076.4 342.7,1076.7 343.3,1076.9 343.9,1077.1 344.5,1077.4 345.1,1077.6 345.7,1077.8 346.3,1078 346.9,1078.2 347.5,1078.4 348.1,1078.6 348.7,1078.8 349.3,1078.9 349.9,1079.1 350.5,1079.3 351.1,1079.4 351.7,1079.6 352.3,1079.7 352.9,1079.9 353.5,1080 354.1,1080.1 354.7,1080.3 355.3,1080.4 355.9,1080.5 356.5,1080.6 357.1,1080.8 357.7,1080.9 358.3,1081 358.9,1081.1 359.5,1081.2 360.1,1081.3 360.7,1081.4 361.3,1081.5 361.9,1081.5 362.5,1081.6 363.1,1081.7 363.7,1081.8 364.3,1081.9 364.9,1081.9 365.5,1082 366.1,1082.1 366.7,1082.2 367.3,1082.2 367.9,1082.3 368.5,1082.3 369.1,1082.4 369.7,1082.5 370.3,1082.5 370.9,1082.6 371.5,1082.6 372.1,1082.7 372.7,1082.7 373.3,1082.8 373.9,1082.8 374.5,1082.9 375.1,1082.9 375.7,1083 376.3,1083 376.9,1083 377.5,1083.1 378.1,1083.1 378.7,1083.1 379.3,1083.2 379.9,1083.2 380.5,1083.2 381.1,1083.3 381.7,1083.3 382.3,1083.3 382.9,1083.4 383.5,1083.4 384.1,1083.4 384.7,1083.4 385.3,1083.5 385.9,1083.5 386.5,1083.5 387.1,1083.5 387.7,1083.6 388.3,1083.6 388.9,1083.6 389.5,1083.6 390.1,1083.6 390.7,1083.6 391.3,1083.7 391.9,1083.7 392.5,1083.7 393.1,1083.7 393.7,1083.7 394.3,1083.7 394.9,1083.8 395.5,1083.8 396.1,1083.8 396.7,1083.8 397.3,1083.8 397.9,1083.8 398.5,1083.8 399.1,1083.9 399.7,1083.9 400.3,1083.9 400.9,1083.9 401.5,1083.9 402.1,1083.9 402.7,1083.9 403.3,1083.9 403.9,1083.9 404.5,1083.9 405.1,1083.9 405.7,1084 406.3,1084 406.9,1084 407.5,1084 408.1,1084 408.7,1084 409.3,1084 409.9,1084 410.5,1084 411.1,1084 411.7,1084 412.3,1084 412.9,1084 413.5,1084 414.1,1084 414.7,1084.1 415.3,1084.1 415.9,1084.1 416.5,1084.1 417.1,1084.1 417.7,1084.1 418.3,1084.1 418.9,1084.1 419.5,1084.1 420.1,1084.1 420.7,1084.1 421.3,1084.1 421.9,1084.1 422.5,1084.1 423.1,1084.1 423.7,1084.1 424.3,1084.1 424.9,1084.1 425.5,1084.1 426.1,1084.1 426.7,1084.1 427.3,1084.1 427.9,1084.1 428.5,1084.1 429.1,1084.1 429.7,1084.1 430.3,1084.1 430.9,1084.1 431.5,1084.1 432.1,1084.1 432.7,1084.1 433.3,1084.1 433.9,1084.1 434.5,1084.1 435.1,1084.2 435.7,1084.2 436.3,1084.2 436.9,1084.2 437.5,1084.2 438.1,1084.2 438.7,1084.2 439.3,1084.2 439.9,1084.2 440.5,1084.2 441.1,1084.2 441.7,1084.2 442.3,1084.2 442.9,1084.2 443.5,1084.2 444.1,1084.2 444.7,1084.2 445.3,1084.2 445.9,1084.2 446.5,1084.2 447.1,1084.2 447.7,1084.2 448.3,1084.2 448.9,1084.2 449.5,1084.2 450.1,1084.2 450.7,1084.2 451.3,1084.2 451.9,1084.2 452.5,1084.2 453.1,1084.2" fill="none" stroke="#111" stroke-width="1.15" stroke-linejoin="round" stroke-linecap="round" />
<polyline points="139.9,732.3 140.5,732.4 141.1,732.4 141.7,732.4 142.3,732.4 142.9,732.4 143.5,732.4 144.1,732.4 144.7,732.4 145.3,732.5 145.9,732.5 146.5,732.5 147.1,732.5 147.7,732.5 148.3,732.5 148.9,732.6 149.5,732.6 150.1,732.6 150.7,732.6 151.3,732.7 151.9,732.7 152.5,732.7 153.1,732.7 153.7,732.8 154.3,732.8 154.9,732.8 155.5,732.9 156.1,732.9 156.7,733 157.3,733 157.9,733 158.5,733.1 159.1,733.1 159.7,733.2 160.3,733.2 160.9,733.3 161.5,733.3 162.1,733.4 162.7,733.4 163.3,733.5 163.9,733.6 164.5,733.6 165.1,733.7 165.7,733.8 166.3,733.8 166.9,733.9 167.5,734 168.1,734.1 168.7,734.2 169.3,734.2 169.9,734.3 170.5,734.4 171.1,734.5 171.7,734.6 172.3,734.7 172.9,734.8 173.5,734.9 174.1,735.1 174.7,735.2 175.3,735.3 175.9,735.4 176.5,735.5 177.1,735.7 177.7,735.8 178.3,736 178.9,736.1 179.5,736.3 180.1,736.4 180.7,736.6 181.3,736.7 181.9,736.9 182.5,737.1 183.1,737.3 183.7,737.5 184.3,737.6 184.9,737.8 185.5,738.1 186.1,738.3 186.7,738.5 187.3,738.7 187.9,738.9 188.5,739.2 189.1,739.4 189.7,739.7 190.3,739.9 190.9,740.2 191.5,740.5 192.1,740.8 192.7,741.1 193.3,741.4 193.9,741.7 194.5,742 195.1,742.3 195.7,742.7 196.3,743 196.9,743.4 197.5,743.8 198.1,744.2 198.7,744.6 199.3,745 199.9,745.4 200.5,745.8 201.1,746.3 201.7,746.7 202.3,747.2 202.9,747.7 203.5,748.2 204.1,748.8 204.7,749.3 205.3,749.8 205.9,750.4 206.5,751 207.1,751.6 207.7,752.2 208.3,752.8 208.9,753.5 209.5,754.1 210.1,754.8 210.7,755.5 211.3,756.2 211.9,757 212.5,757.7 213.1,758.5 213.7,759.3 214.3,760.1 214.9,760.9 215.5,761.8 216.1,762.7 216.7,763.6 217.3,764.5 217.9,765.4 218.5,766.4 219.1,767.4 219.7,768.4 220.3,769.4 220.9,770.5 221.5,771.6 222.1,772.7 222.7,773.8 223.3,775 223.9,776.2 224.5,777.4 225.1,778.7 225.7,779.9 226.3,781.2 226.9,782.6 227.5,783.9 228.1,785.3 228.7,786.8 229.3,788.2 229.9,789.7 230.5,791.2 231.1,792.7 231.7,794.3 232.3,795.9 232.9,797.6 233.5,799.2 234.1,800.9 234.7,802.7 235.3,804.5 235.9,806.3 236.5,808.1 237.1,810 237.7,811.9 238.3,813.8 238.9,815.8 239.5,817.8 240.1,819.8 240.7,821.9 241.3,824 241.9,826.1 242.5,828.3 243.1,830.5 243.7,832.7 244.3,835 244.9,837.3 245.5,839.6 246.1,842 246.7,844.3 247.3,846.8 247.9,849.2 248.5,851.7 249.1,854.2 249.7,856.7 250.3,859.3 250.9,861.9 251.5,864.5 252.1,867.1 252.7,869.8 253.3,872.4 253.9,875.1 254.5,877.8 255.1,880.6 255.7,883.3 256.3,886.1 256.9,888.9 257.5,891.7 258.1,894.5 258.7,897.3 259.3,900.2 259.9,903 260.5,905.9 261.1,908.7 261.7,911.6 262.3,914.5 262.9,917.3 263.5,920.2 264.1,923.1 264.7,925.9 265.3,928.8 265.9,931.7 266.5,934.5 267.1,937.4 267.7,940.2 268.3,943 268.9,945.8 269.5,948.6 270.1,951.4 270.7,954.2 271.3,956.9 271.9,959.7 272.5,962.4 273.1,965.1 273.7,967.7 274.3,970.4 274.9,973 275.5,975.6 276.1,978.1 276.7,980.7 277.3,983.2 277.9,985.6 278.5,988.1 279.1,990.5 279.7,992.9 280.3,995.2 280.9,997.5 281.5,999.8 282.1,1002 282.7,1004.2 283.3,1006.4 283.9,1008.5 284.5,1010.6 285.1,1012.6 285.7,1014.7 286.3,1016.6 286.9,1018.6 287.5,1020.5 288.1,1022.3 288.7,1024.2 289.3,1025.9 289.9,1027.7 290.5,1029.4 291.1,1031.1 291.7,1032.7 292.3,1034.3 292.9,1035.9 293.5,1037.4 294.1,1038.8 294.7,1040.3 295.3,1041.7 295.9,1043.1 296.5,1044.4 297.1,1045.7 297.7,1047 298.3,1048.2 298.9,1049.4 299.5,1050.6 300.1,1051.7 300.7,1052.8 301.3,1053.9 301.9,1054.9 302.5,1055.9 303.1,1056.9 303.7,1057.9 304.3,1058.8 304.9,1059.7 305.5,1060.5 306.1,1061.4 306.7,1062.2 307.3,1063 307.9,1063.7 308.5,1064.5 309.1,1065.2 309.7,1065.9 310.3,1066.5 310.9,1067.2 311.5,1067.8 312.1,1068.4 312.7,1069 313.3,1069.6 313.9,1070.1 314.5,1070.6 315.1,1071.2 315.7,1071.6 316.3,1072.1 316.9,1072.6 317.5,1073 318.1,1073.4 318.7,1073.8 319.3,1074.2 319.9,1074.6 320.5,1075 321.1,1075.3 321.7,1075.7 322.3,1076 322.9,1076.3 323.5,1076.6 324.1,1076.9 324.7,1077.2 325.3,1077.5 325.9,1077.8 326.5,1078 327.1,1078.2 327.7,1078.5 328.3,1078.7 328.9,1078.9 329.5,1079.1 330.1,1079.3 330.7,1079.5 331.3,1079.7 331.9,1079.9 332.5,1080.1 333.1,1080.2 333.7,1080.4 334.3,1080.5 334.9,1080.7 335.5,1080.8 336.1,1081 336.7,1081.1 337.3,1081.2 337.9,1081.3 338.5,1081.5 339.1,1081.6 339.7,1081.7 340.3,1081.8 340.9,1081.9 341.5,1082 342.1,1082.1 342.7,1082.1 343.3,1082.2 343.9,1082.3 344.5,1082.4 345.1,1082.5 345.7,1082.5 346.3,1082.6 346.9,1082.7 347.5,1082.7 348.1,1082.8 348.7,1082.8 349.3,1082.9 349.9,1083 350.5,1083 351.1,1083.1 351.7,1083.1 352.3,1083.1 352.9,1083.2 353.5,1083.2 354.1,1083.3 354.7,1083.3 355.3,1083.3 355.9,1083.4 356.5,1083.4 357.1,1083.4 357.7,1083.5 358.3,1083.5 358.9,1083.5 359.5,1083.6 360.1,1083.6 360.7,1083.6 361.3,1083.6 361.9,1083.7 362.5,1083.7 363.1,1083.7 363.7,1083.7 364.3,1083.7 364.9,1083.8 365.5,1083.8 366.1,1083.8 366.7,1083.8 367.3,1083.8 367.9,1083.8 368.5,1083.9 369.1,1083.9 369.7,1083.9 370.3,1083.9 370.9,1083.9 371.5,1083.9 372.1,1083.9 372.7,1083.9 373.3,1084 373.9,1084 374.5,1084 375.1,1084 375.7,1084 376.3,1084 376.9,1084 377.5,1084 378.1,1084 378.7,1084 379.3,1084 379.9,1084 380.5,1084.1 381.1,1084.1 381.7,1084.1 382.3,1084.1 382.9,1084.1 383.5,1084.1 384.1,1084.1 384.7,1084.1 385.3,1084.1 385.9,1084.1 386.5,1084.1 387.1,1084.1 387.7,1084.1 388.3,1084.1 388.9,1084.1 389.5,1084.1 390.1,1084.1 390.7,1084.1 391.3,1084.1 391.9,1084.1 392.5,1084.1 393.1,1084.1 393.7,1084.1 394.3,1084.1 394.9,1084.1 395.5,1084.2 396.1,1084.2 396.7,1084.2 397.3,1084.2 397.9,1084.2 398.5,1084.2 399.1,1084.2 399.7,1084.2 400.3,1084.2 400.9,1084.2 401.5,1084.2 402.1,1084.2 402.7,1084.2 403.3,1084.2 403.9,1084.2 404.5,1084.2 405.1,1084.2 405.7,1084.2 406.3,1084.2 406.9,1084.2 407.5,1084.2 408.1,1084.2 408.7,1084.2 409.3,1084.2 409.9,1084.2 410.5,1084.2 411.1,1084.2 411.7,1084.2 412.3,1084.2 412.9,1084.2 413.5,1084.2 414.1,1084.2 414.7,1084.2 415.3,1084.2 415.9,1084.2 416.5,1084.2 417.1,1084.2 417.7,1084.2 418.3,1084.2 418.9,1084.2 419.5,1084.2 420.1,1084.2 420.7,1084.2 421.3,1084.2 421.9,1084.2 422.5,1084.2 423.1,1084.2 423.7,1084.2 424.3,1084.2 424.9,1084.2 425.5,1084.2 426.1,1084.2 426.7,1084.2 427.3,1084.2 427.9,1084.2 428.5,1084.2 429.1,1084.2 429.7,1084.2 430.3,1084.2 430.9,1084.2 431.5,1084.2 432.1,1084.2 432.7,1084.2 433.3,1084.2 433.9,1084.2 434.5,1084.2 435.1,1084.2 435.7,1084.2 436.3,1084.2 436.9,1084.2 437.5,1084.2 438.1,1084.2 438.7,1084.2 439.3,1084.2 439.9,1084.2 440.5,1084.2 441.1,1084.2 441.7,1084.2 442.3,1084.2 442.9,1084.2 443.5,1084.2 444.1,1084.2 444.7,1084.2 445.3,1084.2 445.9,1084.2 446.5,1084.2 447.1,1084.2 447.7,1084.2 448.3,1084.2 448.9,1084.2 449.5,1084.2 450.1,1084.2 450.7,1084.2 451.3,1084.2 451.9,1084.2 452.5,1084.2 453.1,1084.2" fill="none" stroke="#111" stroke-width="1.15" stroke-linejoin="round" stroke-linecap="round" />
<line x1="140.1" y1="727" x2="140.1" y2="737" stroke="#000" stroke-width="1.4" />
<line x1="136.6" y1="727" x2="143.6" y2="727" stroke="#000" stroke-width="1.4" />
<line x1="136.6" y1="737" x2="143.6" y2="737" stroke="#000" stroke-width="1.4" />
<line x1="164.1" y1="740" x2="164.1" y2="767.2" stroke="#000" stroke-width="1.4" />
<line x1="160.6" y1="740" x2="167.6" y2="740" stroke="#000" stroke-width="1.4" />
<line x1="160.6" y1="767.2" x2="167.6" y2="767.2" stroke="#000" stroke-width="1.4" />
<line x1="188.1" y1="732.3" x2="188.1" y2="760" stroke="#000" stroke-width="1.4" />
<line x1="184.6" y1="732.3" x2="191.6" y2="732.3" stroke="#000" stroke-width="1.4" />
<line x1="184.6" y1="760" x2="191.6" y2="760" stroke="#000" stroke-width="1.4" />
<line x1="212.1" y1="748.4" x2="212.1" y2="766" stroke="#000" stroke-width="1.4" />
<line x1="208.6" y1="748.4" x2="215.6" y2="748.4" stroke="#000" stroke-width="1.4" />
<line x1="208.6" y1="766" x2="215.6" y2="766" stroke="#000" stroke-width="1.4" />
<line x1="236.2" y1="768.8" x2="236.2" y2="796.8" stroke="#000" stroke-width="1.4" />
<line x1="232.7" y1="768.8" x2="239.7" y2="768.8" stroke="#000" stroke-width="1.4" />
<line x1="232.7" y1="796.8" x2="239.7" y2="796.8" stroke="#000" stroke-width="1.4" />
<line x1="260.2" y1="811.1" x2="260.2" y2="842.7" stroke="#000" stroke-width="1.4" />
<line x1="256.7" y1="811.1" x2="263.7" y2="811.1" stroke="#000" stroke-width="1.4" />
<line x1="256.7" y1="842.7" x2="263.7" y2="842.7" stroke="#000" stroke-width="1.4" />
<line x1="284.2" y1="924.8" x2="284.2" y2="968.9" stroke="#000" stroke-width="1.4" />
<line x1="280.7" y1="924.8" x2="287.7" y2="924.8" stroke="#000" stroke-width="1.4" />
<line x1="280.7" y1="968.9" x2="287.7" y2="968.9" stroke="#000" stroke-width="1.4" />
<line x1="308.2" y1="1035.2" x2="308.2" y2="1055" stroke="#000" stroke-width="1.4" />
<line x1="304.7" y1="1035.2" x2="311.7" y2="1035.2" stroke="#000" stroke-width="1.4" />
<line x1="304.7" y1="1055" x2="311.7" y2="1055" stroke="#000" stroke-width="1.4" />
<line x1="332.3" y1="1063.5" x2="332.3" y2="1074.5" stroke="#000" stroke-width="1.4" />
<line x1="328.8" y1="1063.5" x2="335.8" y2="1063.5" stroke="#000" stroke-width="1.4" />
<line x1="328.8" y1="1074.5" x2="335.8" y2="1074.5" stroke="#000" stroke-width="1.4" />
<line x1="140.1" y1="728.5" x2="140.1" y2="741.4" stroke="#000" stroke-width="1.4" />
<line x1="136.6" y1="728.5" x2="143.6" y2="728.5" stroke="#000" stroke-width="1.4" />
<line x1="136.6" y1="741.4" x2="143.6" y2="741.4" stroke="#000" stroke-width="1.4" />
<line x1="164.1" y1="726.5" x2="164.1" y2="736" stroke="#000" stroke-width="1.4" />
<line x1="160.6" y1="726.5" x2="167.6" y2="726.5" stroke="#000" stroke-width="1.4" />
<line x1="160.6" y1="736" x2="167.6" y2="736" stroke="#000" stroke-width="1.4" />
<line x1="188.1" y1="748" x2="188.1" y2="767.2" stroke="#000" stroke-width="1.4" />
<line x1="184.6" y1="748" x2="191.6" y2="748" stroke="#000" stroke-width="1.4" />
<line x1="184.6" y1="767.2" x2="191.6" y2="767.2" stroke="#000" stroke-width="1.4" />
<line x1="212.1" y1="750.5" x2="212.1" y2="769.9" stroke="#000" stroke-width="1.4" />
<line x1="208.6" y1="750.5" x2="215.6" y2="750.5" stroke="#000" stroke-width="1.4" />
<line x1="208.6" y1="769.9" x2="215.6" y2="769.9" stroke="#000" stroke-width="1.4" />
<line x1="236.2" y1="796" x2="236.2" y2="826.2" stroke="#000" stroke-width="1.4" />
<line x1="232.7" y1="796" x2="239.7" y2="796" stroke="#000" stroke-width="1.4" />
<line x1="232.7" y1="826.2" x2="239.7" y2="826.2" stroke="#000" stroke-width="1.4" />
<line x1="260.2" y1="864.9" x2="260.2" y2="916.9" stroke="#000" stroke-width="1.4" />
<line x1="256.7" y1="864.9" x2="263.7" y2="864.9" stroke="#000" stroke-width="1.4" />
<line x1="256.7" y1="916.9" x2="263.7" y2="916.9" stroke="#000" stroke-width="1.4" />
<line x1="284.2" y1="986.8" x2="284.2" y2="1038.8" stroke="#000" stroke-width="1.4" />
<line x1="280.7" y1="986.8" x2="287.7" y2="986.8" stroke="#000" stroke-width="1.4" />
<line x1="280.7" y1="1038.8" x2="287.7" y2="1038.8" stroke="#000" stroke-width="1.4" />
<line x1="308.2" y1="1056.8" x2="308.2" y2="1076.5" stroke="#000" stroke-width="1.4" />
<line x1="304.7" y1="1056.8" x2="311.7" y2="1056.8" stroke="#000" stroke-width="1.4" />
<line x1="304.7" y1="1076.5" x2="311.7" y2="1076.5" stroke="#000" stroke-width="1.4" />
<line x1="332.3" y1="1075.5" x2="332.3" y2="1084" stroke="#000" stroke-width="1.4" />
<line x1="328.8" y1="1075.5" x2="335.8" y2="1075.5" stroke="#000" stroke-width="1.4" />
<line x1="328.8" y1="1084" x2="335.8" y2="1084" stroke="#000" stroke-width="1.4" />
<line x1="356.3" y1="1078.5" x2="356.3" y2="1085.5" stroke="#000" stroke-width="1.4" />
<line x1="352.8" y1="1078.5" x2="359.8" y2="1078.5" stroke="#000" stroke-width="1.4" />
<line x1="352.8" y1="1085.5" x2="359.8" y2="1085.5" stroke="#000" stroke-width="1.4" />
<line x1="380.3" y1="1080.5" x2="380.3" y2="1086.5" stroke="#000" stroke-width="1.4" />
<line x1="376.8" y1="1080.5" x2="383.8" y2="1080.5" stroke="#000" stroke-width="1.4" />
<line x1="376.8" y1="1086.5" x2="383.8" y2="1086.5" stroke="#000" stroke-width="1.4" />
<line x1="404.3" y1="1069.3" x2="404.3" y2="1083" stroke="#000" stroke-width="1.4" />
<line x1="400.8" y1="1069.3" x2="407.8" y2="1069.3" stroke="#000" stroke-width="1.4" />
<line x1="400.8" y1="1083" x2="407.8" y2="1083" stroke="#000" stroke-width="1.4" />
<line x1="428.4" y1="1065" x2="428.4" y2="1078.5" stroke="#000" stroke-width="1.4" />
<line x1="424.9" y1="1065" x2="431.9" y2="1065" stroke="#000" stroke-width="1.4" />
<line x1="424.9" y1="1078.5" x2="431.9" y2="1078.5" stroke="#000" stroke-width="1.4" />
<line x1="452.4" y1="1060.7" x2="452.4" y2="1076.5" stroke="#000" stroke-width="1.4" />
<line x1="448.9" y1="1060.7" x2="455.9" y2="1060.7" stroke="#000" stroke-width="1.4" />
<line x1="448.9" y1="1076.5" x2="455.9" y2="1076.5" stroke="#000" stroke-width="1.4" />
<rect x="137" y="727.7" width="6.2" height="7.6" fill="#757575" stroke="#0a0a0a" stroke-width="1.5"/>
<rect x="161" y="749.7" width="6.2" height="7.6" fill="#757575" stroke="#0a0a0a" stroke-width="1.5"/>
<rect x="185" y="742.7" width="6.2" height="7.6" fill="#757575" stroke="#0a0a0a" stroke-width="1.5"/>
<rect x="209" y="753.1" width="6.2" height="7.6" fill="#757575" stroke="#0a0a0a" stroke-width="1.5"/>
<rect x="233.1" y="779.7" width="6.2" height="7.6" fill="#757575" stroke="#0a0a0a" stroke-width="1.5"/>
<rect x="257.1" y="823.1" width="6.2" height="7.6" fill="#757575" stroke="#0a0a0a" stroke-width="1.5"/>
<rect x="281.1" y="942.9" width="6.2" height="7.6" fill="#757575" stroke="#0a0a0a" stroke-width="1.5"/>
<rect x="305.1" y="1041.1" width="6.2" height="7.6" fill="#757575" stroke="#0a0a0a" stroke-width="1.5"/>
<rect x="329.2" y="1064.8" width="6.2" height="7.6" fill="#757575" stroke="#0a0a0a" stroke-width="1.5"/>
<rect x="353.2" y="1079.5" width="6.2" height="7.6" fill="#757575" stroke="#0a0a0a" stroke-width="1.5"/>
<rect x="377.2" y="1079.8" width="6.2" height="7.6" fill="#757575" stroke="#0a0a0a" stroke-width="1.5"/>
<rect x="401.2" y="1079.1" width="6.2" height="7.6" fill="#757575" stroke="#0a0a0a" stroke-width="1.5"/>
<rect x="425.3" y="1078.4" width="6.2" height="7.6" fill="#757575" stroke="#0a0a0a" stroke-width="1.5"/>
<rect x="449.3" y="1075.5" width="6.2" height="7.6" fill="#757575" stroke="#0a0a0a" stroke-width="1.5"/>
<ellipse cx="140.1" cy="734.4" rx="4.0" ry="4.7" fill="#000"/>
<ellipse cx="164.1" cy="731" rx="4.0" ry="4.7" fill="#000"/>
<ellipse cx="188.1" cy="757.4" rx="4.0" ry="4.7" fill="#000"/>
<ellipse cx="212.1" cy="760" rx="4.0" ry="4.7" fill="#000"/>
<ellipse cx="236.2" cy="804" rx="4.0" ry="4.7" fill="#000"/>
<ellipse cx="260.2" cy="891.8" rx="4.0" ry="4.7" fill="#000"/>
<ellipse cx="284.2" cy="1013.4" rx="4.0" ry="4.7" fill="#000"/>
<ellipse cx="308.2" cy="1067.2" rx="4.0" ry="4.7" fill="#000"/>
<ellipse cx="332.3" cy="1080" rx="4.0" ry="4.7" fill="#000"/>
<ellipse cx="356.3" cy="1082.2" rx="4.0" ry="4.7" fill="#000"/>
<ellipse cx="380.3" cy="1083.6" rx="4.0" ry="4.7" fill="#000"/>
<ellipse cx="404.3" cy="1076.5" rx="4.0" ry="4.7" fill="#000"/>
<ellipse cx="428.4" cy="1071.8" rx="4.0" ry="4.7" fill="#000"/>
<ellipse cx="452.4" cy="1068.6" rx="4.0" ry="4.7" fill="#000"/>
<text transform="translate(264.9 788.2) scale(1.0 1.06)" x="0" y="16.5" font-family='"DejaVu Sans", "Liberation Sans", sans-serif' font-size="34" font-weight="bold" text-anchor="middle" fill="#000" stroke="#000" stroke-width="0.9" stroke-linejoin="round">*</text>
<text transform="translate(290 904.2) scale(1.0 1.06)" x="0" y="16.5" font-family='"DejaVu Sans", "Liberation Sans", sans-serif' font-size="34" font-weight="bold" text-anchor="middle" fill="#000" stroke="#000" stroke-width="0.9" stroke-linejoin="round">*</text>
<line x1="598.2" y1="725.6" x2="598.2" y2="1124.4" stroke="#181818" stroke-width="2.1" />
<line x1="597.2" y1="1123.4" x2="958.8" y2="1123.4" stroke="#181818" stroke-width="2.0" />
<line x1="593.8" y1="726.5" x2="598.2" y2="726.5" stroke="#181818" stroke-width="1.6" />
<line x1="591.8" y1="1083.6" x2="598.2" y2="1083.6" stroke="#181818" stroke-width="1.6" />
<line x1="594.2" y1="1043.9" x2="598.2" y2="1043.9" stroke="#181818" stroke-width="1.6" />
<line x1="591.8" y1="1004.2" x2="598.2" y2="1004.2" stroke="#181818" stroke-width="1.6" />
<line x1="594.2" y1="964.5" x2="598.2" y2="964.5" stroke="#181818" stroke-width="1.6" />
<line x1="591.8" y1="924.9" x2="598.2" y2="924.9" stroke="#181818" stroke-width="1.6" />
<line x1="594.2" y1="885.2" x2="598.2" y2="885.2" stroke="#181818" stroke-width="1.6" />
<line x1="591.8" y1="845.5" x2="598.2" y2="845.5" stroke="#181818" stroke-width="1.6" />
<line x1="594.2" y1="805.8" x2="598.2" y2="805.8" stroke="#181818" stroke-width="1.6" />
<line x1="591.8" y1="766.1" x2="598.2" y2="766.1" stroke="#181818" stroke-width="1.6" />
<line x1="598.3" y1="1123.4" x2="598.3" y2="1132.7" stroke="#181818" stroke-width="1.7" />
<line x1="620.9" y1="1123.4" x2="620.9" y2="1128.4" stroke="#181818" stroke-width="1.7" />
<line x1="643.4" y1="1123.4" x2="643.4" y2="1132.7" stroke="#181818" stroke-width="1.7" />
<line x1="665.9" y1="1123.4" x2="665.9" y2="1128.4" stroke="#181818" stroke-width="1.7" />
<line x1="688.5" y1="1123.4" x2="688.5" y2="1132.7" stroke="#181818" stroke-width="1.7" />
<line x1="711" y1="1123.4" x2="711" y2="1128.4" stroke="#181818" stroke-width="1.7" />
<line x1="733.6" y1="1123.4" x2="733.6" y2="1132.7" stroke="#181818" stroke-width="1.7" />
<line x1="756.1" y1="1123.4" x2="756.1" y2="1128.4" stroke="#181818" stroke-width="1.7" />
<line x1="778.7" y1="1123.4" x2="778.7" y2="1132.7" stroke="#181818" stroke-width="1.7" />
<line x1="801.2" y1="1123.4" x2="801.2" y2="1128.4" stroke="#181818" stroke-width="1.7" />
<line x1="823.8" y1="1123.4" x2="823.8" y2="1132.7" stroke="#181818" stroke-width="1.7" />
<line x1="846.3" y1="1123.4" x2="846.3" y2="1128.4" stroke="#181818" stroke-width="1.7" />
<line x1="868.9" y1="1123.4" x2="868.9" y2="1132.7" stroke="#181818" stroke-width="1.7" />
<line x1="891.4" y1="1123.4" x2="891.4" y2="1128.4" stroke="#181818" stroke-width="1.7" />
<line x1="913.9" y1="1123.4" x2="913.9" y2="1132.7" stroke="#181818" stroke-width="1.7" />
<line x1="936.5" y1="1123.4" x2="936.5" y2="1128.4" stroke="#181818" stroke-width="1.7" />
<line x1="959" y1="1123.4" x2="959" y2="1132.7" stroke="#181818" stroke-width="1.7" />
<text x="581.4" y="776.3" font-family='"Liberation Sans", Arial, Helvetica, sans-serif' font-size="21" font-weight="normal" text-anchor="end" fill="#222"  stroke="#222" stroke-width="0.3">1.0</text>
<text x="581.4" y="855.7" font-family='"Liberation Sans", Arial, Helvetica, sans-serif' font-size="21" font-weight="normal" text-anchor="end" fill="#222"  stroke="#222" stroke-width="0.3">0.8</text>
<text x="581.4" y="935.1" font-family='"Liberation Sans", Arial, Helvetica, sans-serif' font-size="21" font-weight="normal" text-anchor="end" fill="#222"  stroke="#222" stroke-width="0.3">0.6</text>
<text x="581.4" y="1014.4" font-family='"Liberation Sans", Arial, Helvetica, sans-serif' font-size="21" font-weight="normal" text-anchor="end" fill="#222"  stroke="#222" stroke-width="0.3">0.4</text>
<text x="581.4" y="1093.8" font-family='"Liberation Sans", Arial, Helvetica, sans-serif' font-size="21" font-weight="normal" text-anchor="end" fill="#222"  stroke="#222" stroke-width="0.3">0.2</text>
<text x="618.7" y="1156.5" font-family='"Liberation Sans", Arial, Helvetica, sans-serif' font-size="18.5" font-weight="normal" text-anchor="middle" fill="#222"  stroke="#222" stroke-width="0.3">0</text>
<text x="661.2" y="1158" font-family='"Liberation Sans", Arial, Helvetica, sans-serif' font-size="18.5" font-weight="normal" text-anchor="middle" fill="#222"  stroke="#222" stroke-width="0.3">20</text>
<text x="713.5" y="1156.4" font-family='"Liberation Sans", Arial, Helvetica, sans-serif' font-size="18.5" font-weight="normal" text-anchor="middle" fill="#222"  stroke="#222" stroke-width="0.3">40</text>
<text x="762.1" y="1156.5" font-family='"Liberation Sans", Arial, Helvetica, sans-serif' font-size="18.5" font-weight="normal" text-anchor="middle" fill="#222"  stroke="#222" stroke-width="0.3">60</text>
<text x="804.9" y="1156.5" font-family='"Liberation Sans", Arial, Helvetica, sans-serif' font-size="18.5" font-weight="normal" text-anchor="middle" fill="#222"  stroke="#222" stroke-width="0.3">80</text>
<text x="853.3" y="1156.5" font-family='"Liberation Sans", Arial, Helvetica, sans-serif' font-size="18.5" font-weight="normal" text-anchor="middle" fill="#222"  stroke="#222" stroke-width="0.3">100</text>
<text x="898.1" y="1156.5" font-family='"Liberation Sans", Arial, Helvetica, sans-serif' font-size="18.5" font-weight="normal" text-anchor="middle" fill="#222"  stroke="#222" stroke-width="0.3">120</text>
<text x="942.1" y="1156.5" font-family='"Liberation Sans", Arial, Helvetica, sans-serif' font-size="18.5" font-weight="normal" text-anchor="middle" fill="#222"  stroke="#222" stroke-width="0.3">140</text>
<text x="653" y="1192.7" font-family='"Liberation Sans", Arial, Helvetica, sans-serif' font-size="30" font-weight="bold" text-anchor="start" fill="#000" textLength="284" lengthAdjust="spacingAndGlyphs">Recovery time (ms)</text>
<text transform="translate(532.1 969) rotate(-90) scale(1 1.08)" font-family='"Liberation Sans", Arial, Helvetica, sans-serif' font-size="30" font-weight="bold" fill="#000">It / Ic</text>
<polyline points="643.4,1055.5 644.5,1047.9 645.7,1040.5 646.8,1033.3 647.9,1026.3 649,1019.5 650.2,1013 651.3,1006.6 652.4,1000.4 653.5,994.4 654.7,988.5 655.8,982.8 656.9,977.3 658.1,972 659.2,966.8 660.3,961.7 661.4,956.8 662.6,952.1 663.7,947.4 664.8,942.9 665.9,938.6 667.1,934.4 668.2,930.3 669.3,926.3 670.5,922.4 671.6,918.6 672.7,915 673.8,911.4 675,908 676.1,904.6 677.2,901.4 678.3,898.2 679.5,895.2 680.6,892.2 681.7,889.3 682.9,886.5 684,883.8 685.1,881.1 686.2,878.6 687.4,876.1 688.5,873.7 689.6,871.3 690.7,869 691.9,866.8 693,864.7 694.1,862.6 695.3,860.6 696.4,858.6 697.5,856.7 698.6,854.8 699.8,853 700.9,851.3 702,849.6 703.1,847.9 704.3,846.3 705.4,844.8 706.5,843.2 707.7,841.8 708.8,840.3 709.9,839 711,837.6 712.2,836.3 713.3,835 714.4,833.8 715.5,832.6 716.7,831.5 717.8,830.3 718.9,829.2 720.1,828.2 721.2,827.1 722.3,826.1 723.4,825.2 724.6,824.2 725.7,823.3 726.8,822.4 727.9,821.6 729.1,820.7 730.2,819.9 731.3,819.1 732.5,818.3 733.6,817.6 734.7,816.9 735.8,816.2 737,815.5 738.1,814.8 739.2,814.2 740.3,813.6 741.5,812.9 742.6,812.4 743.7,811.8 744.9,811.2 746,810.7 747.1,810.2 748.2,809.7 749.4,809.2 750.5,808.7 751.6,808.2 752.7,807.8 753.9,807.3 755,806.9 756.1,806.5 757.3,806.1 758.4,805.7 759.5,805.3 760.6,804.9 761.8,804.6 762.9,804.2 764,803.9 765.1,803.6 766.3,803.3 767.4,802.9 768.5,802.6 769.7,802.4 770.8,802.1 771.9,801.8 773,801.5 774.2,801.3 775.3,801 776.4,800.8 777.5,800.5 778.7,800.3 779.8,800.1 780.9,799.9 782.1,799.7 783.2,799.5 784.3,799.3 785.4,799.1 786.6,798.9 787.7,798.7 788.8,798.5 789.9,798.3 791.1,798.2 792.2,798 793.3,797.9 794.5,797.7 795.6,797.6 796.7,797.4 797.8,797.3 799,797.1 800.1,797 801.2,796.9 802.3,796.8 803.5,796.6 804.6,796.5 805.7,796.4 806.9,796.3 808,796.2 809.1,796.1 810.2,796 811.4,795.9 812.5,795.8 813.6,795.7 814.7,795.6 815.9,795.5 817,795.4 818.1,795.4 819.3,795.3 820.4,795.2 821.5,795.1 822.6,795 823.8,795 824.9,794.9 826,794.8 827.1,794.8 828.3,794.7 829.4,794.7 830.5,794.6 831.7,794.5 832.8,794.5 833.9,794.4 835,794.4 836.2,794.3 837.3,794.3 838.4,794.2 839.5,794.2 840.7,794.1 841.8,794.1 842.9,794 844.1,794 845.2,794 846.3,793.9 847.4,793.9 848.6,793.8 849.7,793.8 850.8,793.8 851.9,793.7 853.1,793.7 854.2,793.7 855.3,793.6 856.5,793.6 857.6,793.6 858.7,793.6 859.8,793.5 861,793.5 862.1,793.5 863.2,793.4 864.3,793.4 865.5,793.4 866.6,793.4 867.7,793.4 868.9,793.3 870,793.3 871.1,793.3 872.2,793.3 873.4,793.3 874.5,793.2 875.6,793.2 876.7,793.2 877.9,793.2 879,793.2 880.1,793.1 881.3,793.1 882.4,793.1 883.5,793.1 884.6,793.1 885.8,793.1 886.9,793.1 888,793 889.1,793 890.3,793 891.4,793 892.5,793 893.7,793 894.8,793 895.9,793 897,793 898.2,792.9 899.3,792.9 900.4,792.9 901.5,792.9 902.7,792.9 903.8,792.9 904.9,792.9 906.1,792.9 907.2,792.9 908.3,792.9 909.4,792.9 910.6,792.8 911.7,792.8 912.8,792.8 913.9,792.8 915.1,792.8 916.2,792.8 917.3,792.8 918.5,792.8 919.6,792.8 920.7,792.8 921.8,792.8 923,792.8 924.1,792.8 925.2,792.8 926.3,792.8 927.5,792.8 928.6,792.8 929.7,792.7 930.9,792.7 932,792.7 933.1,792.7 934.2,792.7 935.4,792.7 936.5,792.7" fill="none" stroke="#4d4d4d" stroke-width="1.35" stroke-linejoin="round" stroke-linecap="round" />
<polyline points="643.4,1056 644.5,1052.1 646,1046.5 647.8,1040.3 649.4,1034.7 650.9,1029.8 652.4,1025.1 653.9,1020.5 655.4,1016 656.9,1011.5 658.4,1007.1 659.9,1002.8 661.4,998.6 662.9,994.4 664.4,990.4 665.9,986.3 667.4,982.4 668.9,978.5 670.4,974.8 671.9,971 673.4,967.4 674.9,963.8 676.4,960.3 677.9,956.9 679.4,953.5 680.9,950.2 682.4,946.9 683.9,943.7 685.4,940.6 686.9,937.5 688.4,934.5 689.9,931.6 691.4,928.7 692.9,925.8 694.4,923 695.9,920.3 697.4,917.6 698.9,915 700.4,912.4 701.9,909.9 703.4,907.4 704.9,905 706.4,902.6 707.9,900.2 709.4,897.9 710.9,895.6 712.4,893.4 713.9,891.2 715.4,889.1 716.9,887 718.4,884.9 719.9,882.9 721.4,880.9 722.9,879 724.4,877.1 725.9,875.2 727.4,873.4 728.9,871.6 730.4,869.8 731.9,868.1 733.4,866.4 734.9,864.7 736.4,863.1 737.9,861.6 739.4,860 740.9,858.5 742.4,857 743.9,855.5 745.4,854 746.9,852.6 748.4,851.1 749.9,849.8 751.4,848.4 752.9,847.1 754.4,845.8 755.9,844.5 757.4,843.2 758.9,841.9 760.4,840.7 761.9,839.4 763.4,838.2 764.9,837 766.4,835.9 767.9,834.7 769.4,833.6 770.9,832.5 772.4,831.4 773.9,830.3 775.4,829.3 776.9,828.3 778.4,827.3 779.9,826.3 781.4,825.3 782.9,824.3 784.4,823.4 785.9,822.5 787.4,821.6 788.9,820.7 790.4,819.8 791.9,819 793.4,818.1 794.9,817.3 796.4,816.4 797.9,815.6 799.4,814.8 800.9,814 802.4,813.3 803.9,812.5 805.4,811.8 806.9,811.1 808.4,810.4 809.9,809.7 811.4,809 812.9,808.3 814.4,807.7 815.9,807 817.4,806.4 818.9,805.8 820.4,805.2 821.9,804.7 823.4,804.1 824.9,803.5 826.4,803 827.9,802.4 829.4,801.9 830.9,801.4 832.4,800.8 833.9,800.3 835.4,799.8 836.9,799.3 838.4,798.9 839.9,798.4 841.4,798 842.9,797.6 844.4,797.1 845.9,796.7 847.4,796.3 848.9,795.9 850.4,795.5 851.9,795.1 853.4,794.7 854.9,794.3 856.4,794 857.9,793.6 859.4,793.3 860.9,793 862.4,792.6 863.9,792.3 865.4,792 866.9,791.7 868.4,791.4 869.9,791.1 871.4,790.8 872.9,790.5 874.4,790.2 875.9,790 877.4,789.7 878.9,789.4 880.4,789.2 881.9,788.9 883.4,788.7 884.9,788.4 886.4,788.2 887.9,787.9 889.4,787.7 890.9,787.5 892.4,787.2 893.9,787 895.4,786.8 896.9,786.6 898.4,786.3 899.9,786.1 901.4,785.9 902.9,785.7 904.4,785.5 905.9,785.3 907.4,785.1 908.9,784.9 910.4,784.7 911.9,784.5 913.4,784.3 914.9,784.1 916.4,783.9 917.9,783.7 919.4,783.5 920.9,783.3 922.4,783.1 923.9,782.9 925.4,782.7 927,782.5 928.6,782.3 930.1,782.1 931.4,781.9 932.4,781.8 933.2,781.6 933.9,781.6 934.3,781.5" fill="none" stroke="#0a0a0a" stroke-width="1.4" stroke-linejoin="round" stroke-linecap="round" />
<line x1="643.4" y1="1025.9" x2="643.4" y2="1083.5" stroke="#000" stroke-width="1.5" />
<line x1="639.7" y1="1025.9" x2="647.1" y2="1025.9" stroke="#000" stroke-width="1.5" />
<line x1="639.7" y1="1083.5" x2="647.1" y2="1083.5" stroke="#000" stroke-width="1.5" />
<line x1="665.9" y1="918.8" x2="665.9" y2="962" stroke="#000" stroke-width="1.5" />
<line x1="662.2" y1="918.8" x2="669.6" y2="918.8" stroke="#000" stroke-width="1.5" />
<line x1="662.2" y1="962" x2="669.6" y2="962" stroke="#000" stroke-width="1.5" />
<line x1="688.5" y1="870.8" x2="688.5" y2="902" stroke="#000" stroke-width="1.5" />
<line x1="684.8" y1="870.8" x2="692.2" y2="870.8" stroke="#000" stroke-width="1.5" />
<line x1="684.8" y1="902" x2="692.2" y2="902" stroke="#000" stroke-width="1.5" />
<line x1="711" y1="809.9" x2="711" y2="835.4" stroke="#000" stroke-width="1.5" />
<line x1="707.3" y1="809.9" x2="714.7" y2="809.9" stroke="#000" stroke-width="1.5" />
<line x1="707.3" y1="835.4" x2="714.7" y2="835.4" stroke="#000" stroke-width="1.5" />
<line x1="733.6" y1="811.4" x2="733.6" y2="836.6" stroke="#000" stroke-width="1.5" />
<line x1="729.9" y1="811.4" x2="737.3" y2="811.4" stroke="#000" stroke-width="1.5" />
<line x1="729.9" y1="836.6" x2="737.3" y2="836.6" stroke="#000" stroke-width="1.5" />
<line x1="756.1" y1="800.9" x2="756.1" y2="824" stroke="#000" stroke-width="1.5" />
<line x1="752.4" y1="800.9" x2="759.8" y2="800.9" stroke="#000" stroke-width="1.5" />
<line x1="752.4" y1="824" x2="759.8" y2="824" stroke="#000" stroke-width="1.5" />
<line x1="778.7" y1="783.5" x2="778.7" y2="831.5" stroke="#000" stroke-width="1.5" />
<line x1="775" y1="783.5" x2="782.4" y2="783.5" stroke="#000" stroke-width="1.5" />
<line x1="775" y1="831.5" x2="782.4" y2="831.5" stroke="#000" stroke-width="1.5" />
<line x1="801.2" y1="775.8" x2="801.2" y2="807.3" stroke="#000" stroke-width="1.5" />
<line x1="797.5" y1="775.8" x2="804.9" y2="775.8" stroke="#000" stroke-width="1.5" />
<line x1="797.5" y1="807.3" x2="804.9" y2="807.3" stroke="#000" stroke-width="1.5" />
<line x1="823.8" y1="797" x2="823.8" y2="821.2" stroke="#000" stroke-width="1.5" />
<line x1="820.1" y1="797" x2="827.5" y2="797" stroke="#000" stroke-width="1.5" />
<line x1="820.1" y1="821.2" x2="827.5" y2="821.2" stroke="#000" stroke-width="1.5" />
<line x1="846.3" y1="786.5" x2="846.3" y2="814.1" stroke="#000" stroke-width="1.5" />
<line x1="842.6" y1="786.5" x2="850" y2="786.5" stroke="#000" stroke-width="1.5" />
<line x1="842.6" y1="814.1" x2="850" y2="814.1" stroke="#000" stroke-width="1.5" />
<line x1="868.9" y1="791" x2="868.9" y2="807.6" stroke="#000" stroke-width="1.5" />
<line x1="865.2" y1="791" x2="872.6" y2="791" stroke="#000" stroke-width="1.5" />
<line x1="865.2" y1="807.6" x2="872.6" y2="807.6" stroke="#000" stroke-width="1.5" />
<line x1="891.4" y1="755.9" x2="891.4" y2="787.8" stroke="#000" stroke-width="1.5" />
<line x1="887.7" y1="755.9" x2="895.1" y2="755.9" stroke="#000" stroke-width="1.5" />
<line x1="887.7" y1="787.8" x2="895.1" y2="787.8" stroke="#000" stroke-width="1.5" />
<line x1="913.9" y1="779.5" x2="913.9" y2="803.9" stroke="#000" stroke-width="1.5" />
<line x1="910.2" y1="779.5" x2="917.6" y2="779.5" stroke="#000" stroke-width="1.5" />
<line x1="910.2" y1="803.9" x2="917.6" y2="803.9" stroke="#000" stroke-width="1.5" />
<line x1="936.5" y1="775" x2="936.5" y2="789.4" stroke="#000" stroke-width="1.5" />
<line x1="932.8" y1="775" x2="940.2" y2="775" stroke="#000" stroke-width="1.5" />
<line x1="932.8" y1="789.4" x2="940.2" y2="789.4" stroke="#000" stroke-width="1.5" />
<line x1="643.4" y1="1034.9" x2="643.4" y2="1088.6" stroke="#000" stroke-width="1.5" />
<line x1="639.7" y1="1034.9" x2="647.1" y2="1034.9" stroke="#000" stroke-width="1.5" />
<line x1="639.7" y1="1088.6" x2="647.1" y2="1088.6" stroke="#000" stroke-width="1.5" />
<line x1="665.9" y1="962" x2="665.9" y2="1008.5" stroke="#000" stroke-width="1.5" />
<line x1="662.2" y1="962" x2="669.6" y2="962" stroke="#000" stroke-width="1.5" />
<line x1="662.2" y1="1008.5" x2="669.6" y2="1008.5" stroke="#000" stroke-width="1.5" />
<line x1="688.5" y1="894.5" x2="688.5" y2="963.5" stroke="#000" stroke-width="1.5" />
<line x1="684.8" y1="894.5" x2="692.2" y2="894.5" stroke="#000" stroke-width="1.5" />
<line x1="684.8" y1="963.5" x2="692.2" y2="963.5" stroke="#000" stroke-width="1.5" />
<line x1="711" y1="857.6" x2="711" y2="908" stroke="#000" stroke-width="1.5" />
<line x1="707.3" y1="857.6" x2="714.7" y2="857.6" stroke="#000" stroke-width="1.5" />
<line x1="707.3" y1="908" x2="714.7" y2="908" stroke="#000" stroke-width="1.5" />
<line x1="733.6" y1="850.4" x2="733.6" y2="893.6" stroke="#000" stroke-width="1.5" />
<line x1="729.9" y1="850.4" x2="737.3" y2="850.4" stroke="#000" stroke-width="1.5" />
<line x1="729.9" y1="893.6" x2="737.3" y2="893.6" stroke="#000" stroke-width="1.5" />
<line x1="756.1" y1="821" x2="756.1" y2="878.9" stroke="#000" stroke-width="1.5" />
<line x1="752.4" y1="821" x2="759.8" y2="821" stroke="#000" stroke-width="1.5" />
<line x1="752.4" y1="878.9" x2="759.8" y2="878.9" stroke="#000" stroke-width="1.5" />
<line x1="778.7" y1="831.5" x2="778.7" y2="860" stroke="#000" stroke-width="1.5" />
<line x1="775" y1="831.5" x2="782.4" y2="831.5" stroke="#000" stroke-width="1.5" />
<line x1="775" y1="860" x2="782.4" y2="860" stroke="#000" stroke-width="1.5" />
<line x1="801.2" y1="776" x2="801.2" y2="828.2" stroke="#000" stroke-width="1.5" />
<line x1="797.5" y1="776" x2="804.9" y2="776" stroke="#000" stroke-width="1.5" />
<line x1="797.5" y1="828.2" x2="804.9" y2="828.2" stroke="#000" stroke-width="1.5" />
<line x1="823.8" y1="774.9" x2="823.8" y2="798.9" stroke="#000" stroke-width="1.5" />
<line x1="820.1" y1="774.9" x2="827.5" y2="774.9" stroke="#000" stroke-width="1.5" />
<line x1="820.1" y1="798.9" x2="827.5" y2="798.9" stroke="#000" stroke-width="1.5" />
<line x1="846.3" y1="776.2" x2="846.3" y2="820" stroke="#000" stroke-width="1.5" />
<line x1="842.6" y1="776.2" x2="850" y2="776.2" stroke="#000" stroke-width="1.5" />
<line x1="842.6" y1="820" x2="850" y2="820" stroke="#000" stroke-width="1.5" />
<line x1="868.9" y1="775" x2="868.9" y2="806" stroke="#000" stroke-width="1.5" />
<line x1="865.2" y1="775" x2="872.6" y2="775" stroke="#000" stroke-width="1.5" />
<line x1="865.2" y1="806" x2="872.6" y2="806" stroke="#000" stroke-width="1.5" />
<line x1="891.4" y1="790.5" x2="891.4" y2="831.6" stroke="#000" stroke-width="1.5" />
<line x1="887.7" y1="790.5" x2="895.1" y2="790.5" stroke="#000" stroke-width="1.5" />
<line x1="887.7" y1="831.6" x2="895.1" y2="831.6" stroke="#000" stroke-width="1.5" />
<line x1="913.9" y1="780.5" x2="913.9" y2="803" stroke="#000" stroke-width="1.5" />
<line x1="910.2" y1="780.5" x2="917.6" y2="780.5" stroke="#000" stroke-width="1.5" />
<line x1="910.2" y1="803" x2="917.6" y2="803" stroke="#000" stroke-width="1.5" />
<line x1="936.5" y1="772" x2="936.5" y2="787" stroke="#000" stroke-width="1.5" />
<line x1="932.8" y1="772" x2="940.2" y2="772" stroke="#000" stroke-width="1.5" />
<line x1="932.8" y1="787" x2="940.2" y2="787" stroke="#000" stroke-width="1.5" />
<rect x="640.7" y="1050.4" width="5.4" height="8.0" fill="#707070" stroke="#0a0a0a" stroke-width="1.6"/>
<rect x="663.2" y="936.4" width="5.4" height="8.0" fill="#707070" stroke="#0a0a0a" stroke-width="1.6"/>
<rect x="685.8" y="883" width="5.4" height="8.0" fill="#707070" stroke="#0a0a0a" stroke-width="1.6"/>
<rect x="708.3" y="818.5" width="5.4" height="8.0" fill="#707070" stroke="#0a0a0a" stroke-width="1.6"/>
<rect x="730.9" y="820" width="5.4" height="8.0" fill="#707070" stroke="#0a0a0a" stroke-width="1.6"/>
<rect x="753.4" y="808" width="5.4" height="8.0" fill="#707070" stroke="#0a0a0a" stroke-width="1.6"/>
<rect x="776" y="803.5" width="5.4" height="8.0" fill="#707070" stroke="#0a0a0a" stroke-width="1.6"/>
<rect x="798.5" y="788" width="5.4" height="8.0" fill="#707070" stroke="#0a0a0a" stroke-width="1.6"/>
<rect x="821.1" y="805.9" width="5.4" height="8.0" fill="#707070" stroke="#0a0a0a" stroke-width="1.6"/>
<rect x="843.6" y="796.7" width="5.4" height="8.0" fill="#707070" stroke="#0a0a0a" stroke-width="1.6"/>
<rect x="866.2" y="796.4" width="5.4" height="8.0" fill="#707070" stroke="#0a0a0a" stroke-width="1.6"/>
<rect x="888.7" y="767" width="5.4" height="8.0" fill="#707070" stroke="#0a0a0a" stroke-width="1.6"/>
<rect x="911.2" y="788.3" width="5.4" height="8.0" fill="#707070" stroke="#0a0a0a" stroke-width="1.6"/>
<rect x="933.8" y="779.4" width="5.4" height="8.0" fill="#707070" stroke="#0a0a0a" stroke-width="1.6"/>
<ellipse cx="643.4" cy="1062.5" rx="4.4" ry="4.9" fill="#000"/>
<ellipse cx="665.9" cy="975.5" rx="4.4" ry="4.9" fill="#000"/>
<ellipse cx="688.5" cy="929.6" rx="4.4" ry="4.9" fill="#000"/>
<ellipse cx="711" cy="882.5" rx="4.4" ry="4.9" fill="#000"/>
<ellipse cx="733.6" cy="872" rx="4.4" ry="4.9" fill="#000"/>
<ellipse cx="756.1" cy="849.5" rx="4.4" ry="4.9" fill="#000"/>
<ellipse cx="778.7" cy="846.5" rx="4.4" ry="4.9" fill="#000"/>
<ellipse cx="801.2" cy="802.8" rx="4.4" ry="4.9" fill="#000"/>
<ellipse cx="823.8" cy="786.7" rx="4.4" ry="4.9" fill="#000"/>
<ellipse cx="846.3" cy="798.8" rx="4.4" ry="4.9" fill="#000"/>
<ellipse cx="868.9" cy="790.9" rx="4.4" ry="4.9" fill="#000"/>
<ellipse cx="891.4" cy="810.7" rx="4.4" ry="4.9" fill="#000"/>
<ellipse cx="913.9" cy="791.8" rx="4.4" ry="4.9" fill="#000"/>
<ellipse cx="936.5" cy="779.7" rx="4.4" ry="4.9" fill="#000"/>
<text transform="translate(713.1 792.5) scale(1.0 1.06)" x="0" y="16.5" font-family='"DejaVu Sans", "Liberation Sans", sans-serif' font-size="34" font-weight="bold" text-anchor="middle" fill="#000" stroke="#000" stroke-width="0.9" stroke-linejoin="round">*</text>
<text transform="translate(736.8 792.5) scale(1.0 1.06)" x="0" y="16.5" font-family='"DejaVu Sans", "Liberation Sans", sans-serif' font-size="34" font-weight="bold" text-anchor="middle" fill="#000" stroke="#000" stroke-width="0.9" stroke-linejoin="round">*</text>
</g>
</svg></body></html>
